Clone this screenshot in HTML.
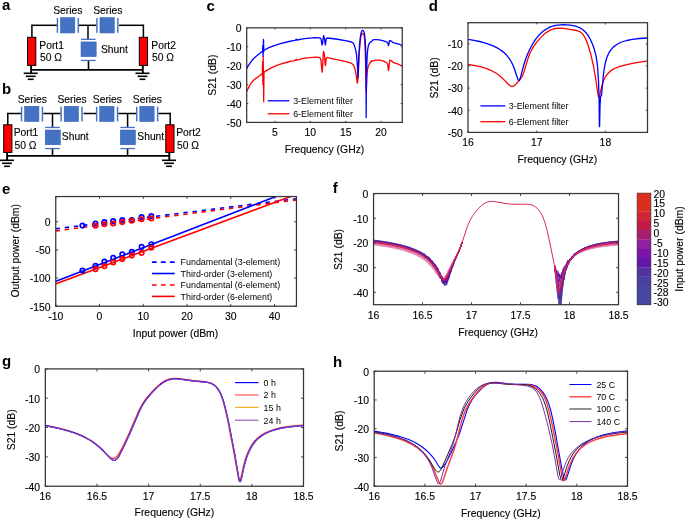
<!DOCTYPE html>
<html><head><meta charset="utf-8"><style>
html,body{margin:0;padding:0;background:#fff;}
svg{display:block;font-family:"Liberation Sans", sans-serif;will-change:transform;}
</style></head><body>
<svg width="685" height="519" viewBox="0 0 685 519">
<rect width="685" height="519" fill="#fff"/>
<text x="2.00" y="10.30" font-size="15" text-anchor="start" font-weight="bold" fill="#000">a</text>
<text x="2.00" y="93.60" font-size="15" text-anchor="start" font-weight="bold" fill="#000">b</text>
<text x="206.60" y="11.10" font-size="15" text-anchor="start" font-weight="bold" fill="#000">c</text>
<text x="428.70" y="11.20" font-size="15" text-anchor="start" font-weight="bold" fill="#000">d</text>
<text x="2.00" y="193.60" font-size="15" text-anchor="start" font-weight="bold" fill="#000">e</text>
<text x="332.80" y="193.00" font-size="15" text-anchor="start" font-weight="bold" fill="#000">f</text>
<text x="2.00" y="366.20" font-size="15" text-anchor="start" font-weight="bold" fill="#000">g</text>
<text x="333.00" y="367.00" font-size="15" text-anchor="start" font-weight="bold" fill="#000">h</text>
<line x1="31.90" y1="25.30" x2="57.00" y2="25.30" stroke="#000" stroke-width="1.5"/>
<line x1="31.90" y1="24.55" x2="31.90" y2="37.50" stroke="#000" stroke-width="1.5"/>
<line x1="79.00" y1="25.30" x2="96.50" y2="25.30" stroke="#000" stroke-width="1.5"/>
<line x1="119.00" y1="25.30" x2="143.40" y2="25.30" stroke="#000" stroke-width="1.5"/>
<line x1="143.40" y1="24.55" x2="143.40" y2="37.50" stroke="#000" stroke-width="1.5"/>
<line x1="88.00" y1="25.30" x2="88.00" y2="39.00" stroke="#000" stroke-width="1.5"/>
<line x1="88.50" y1="61.00" x2="88.50" y2="69.80" stroke="#000" stroke-width="1.6"/>
<line x1="31.10" y1="69.80" x2="142.80" y2="69.80" stroke="#000" stroke-width="1.75"/>
<line x1="31.10" y1="65.50" x2="31.10" y2="73.00" stroke="#000" stroke-width="1.9"/>
<line x1="142.80" y1="65.50" x2="142.80" y2="73.00" stroke="#000" stroke-width="1.9"/>
<rect x="56.70" y="18.00" width="1.45" height="14.80" fill="#4472c4" stroke="none" stroke-width="0"/>
<rect x="60.45" y="17.55" width="14.4" height="15.45" fill="#4472c4" stroke="#3560a8" stroke-width="0.5"/>
<rect x="77.60" y="18.00" width="1.45" height="14.80" fill="#4472c4" stroke="none" stroke-width="0"/>
<rect x="96.20" y="18.00" width="1.45" height="14.80" fill="#4472c4" stroke="none" stroke-width="0"/>
<rect x="99.95" y="17.55" width="14.4" height="15.45" fill="#4472c4" stroke="#3560a8" stroke-width="0.5"/>
<rect x="117.10" y="18.00" width="1.45" height="14.80" fill="#4472c4" stroke="none" stroke-width="0"/>
<rect x="81.00" y="38.70" width="14.60" height="1.30" fill="#4472c4" stroke="none" stroke-width="0"/>
<rect x="81.00" y="41.90" width="15.2" height="14.8" fill="#4472c4" stroke="#3560a8" stroke-width="0.5"/>
<rect x="81.00" y="59.80" width="14.60" height="1.30" fill="#4472c4" stroke="none" stroke-width="0"/>
<rect x="27.60" y="37.30" width="8.2" height="28.10" fill="#ff0000" stroke="#000" stroke-width="1"/>
<rect x="139.30" y="37.30" width="8.2" height="28.10" fill="#ff0000" stroke="#000" stroke-width="1"/>
<line x1="23.70" y1="73.30" x2="37.70" y2="73.30" stroke="#000" stroke-width="1.6"/>
<line x1="25.80" y1="76.30" x2="35.60" y2="76.30" stroke="#000" stroke-width="1.6"/>
<line x1="27.80" y1="79.30" x2="33.60" y2="79.30" stroke="#000" stroke-width="1.6"/>
<line x1="135.50" y1="73.30" x2="149.50" y2="73.30" stroke="#000" stroke-width="1.6"/>
<line x1="137.60" y1="76.30" x2="147.40" y2="76.30" stroke="#000" stroke-width="1.6"/>
<line x1="139.60" y1="79.30" x2="145.40" y2="79.30" stroke="#000" stroke-width="1.6"/>
<text x="53.20" y="13.70" font-size="10.3" text-anchor="start" font-weight="normal" fill="#000" stroke="#000" stroke-width="0.12">Series</text>
<text x="93.20" y="13.70" font-size="10.3" text-anchor="start" font-weight="normal" fill="#000" stroke="#000" stroke-width="0.12">Series</text>
<text x="101.00" y="52.80" font-size="10.3" text-anchor="start" font-weight="normal" fill="#000" stroke="#000" stroke-width="0.12">Shunt</text>
<text x="39.30" y="48.80" font-size="10.3" text-anchor="start" font-weight="normal" fill="#000" stroke="#000" stroke-width="0.12">Port1</text>
<text x="40.00" y="61.20" font-size="10.3" text-anchor="start" font-weight="normal" fill="#000" stroke="#000" stroke-width="0.12">50 Ω</text>
<text x="151.30" y="48.80" font-size="10.3" text-anchor="start" font-weight="normal" fill="#000" stroke="#000" stroke-width="0.12">Port2</text>
<text x="152.00" y="61.20" font-size="10.3" text-anchor="start" font-weight="normal" fill="#000" stroke="#000" stroke-width="0.12">50 Ω</text>
<line x1="7.80" y1="113.50" x2="21.10" y2="113.50" stroke="#000" stroke-width="1.5"/>
<line x1="7.80" y1="112.75" x2="7.80" y2="125.00" stroke="#000" stroke-width="1.5"/>
<line x1="43.30" y1="113.50" x2="60.70" y2="113.50" stroke="#000" stroke-width="1.5"/>
<line x1="83.50" y1="113.50" x2="96.20" y2="113.50" stroke="#000" stroke-width="1.5"/>
<line x1="118.30" y1="113.50" x2="136.30" y2="113.50" stroke="#000" stroke-width="1.5"/>
<line x1="158.40" y1="113.50" x2="170.20" y2="113.50" stroke="#000" stroke-width="1.5"/>
<line x1="170.20" y1="112.75" x2="170.20" y2="125.00" stroke="#000" stroke-width="1.5"/>
<line x1="52.50" y1="113.50" x2="52.50" y2="127.00" stroke="#000" stroke-width="1.5"/>
<line x1="52.50" y1="149.00" x2="52.50" y2="155.95" stroke="#000" stroke-width="1.6"/>
<line x1="127.60" y1="113.50" x2="127.60" y2="127.00" stroke="#000" stroke-width="1.5"/>
<line x1="127.60" y1="149.00" x2="127.60" y2="155.95" stroke="#000" stroke-width="1.6"/>
<line x1="7.10" y1="155.95" x2="169.30" y2="155.95" stroke="#000" stroke-width="1.75"/>
<line x1="7.10" y1="152.40" x2="7.10" y2="160.00" stroke="#000" stroke-width="1.9"/>
<line x1="169.30" y1="152.40" x2="169.30" y2="160.00" stroke="#000" stroke-width="1.9"/>
<rect x="20.80" y="106.70" width="1.45" height="14.70" fill="#4472c4" stroke="none" stroke-width="0"/>
<rect x="24.55" y="106.25" width="14.4" height="15.35" fill="#4472c4" stroke="#3560a8" stroke-width="0.5"/>
<rect x="41.70" y="106.70" width="1.45" height="14.70" fill="#4472c4" stroke="none" stroke-width="0"/>
<rect x="60.40" y="106.70" width="1.45" height="14.70" fill="#4472c4" stroke="none" stroke-width="0"/>
<rect x="64.15" y="106.25" width="14.4" height="15.35" fill="#4472c4" stroke="#3560a8" stroke-width="0.5"/>
<rect x="81.30" y="106.70" width="1.45" height="14.70" fill="#4472c4" stroke="none" stroke-width="0"/>
<rect x="95.90" y="106.70" width="1.45" height="14.70" fill="#4472c4" stroke="none" stroke-width="0"/>
<rect x="99.65" y="106.25" width="14.4" height="15.35" fill="#4472c4" stroke="#3560a8" stroke-width="0.5"/>
<rect x="116.80" y="106.70" width="1.45" height="14.70" fill="#4472c4" stroke="none" stroke-width="0"/>
<rect x="136.00" y="106.70" width="1.45" height="14.70" fill="#4472c4" stroke="none" stroke-width="0"/>
<rect x="139.75" y="106.25" width="14.4" height="15.35" fill="#4472c4" stroke="#3560a8" stroke-width="0.5"/>
<rect x="156.90" y="106.70" width="1.45" height="14.70" fill="#4472c4" stroke="none" stroke-width="0"/>
<rect x="45.20" y="126.80" width="14.60" height="1.30" fill="#4472c4" stroke="none" stroke-width="0"/>
<rect x="45.20" y="130.00" width="15.2" height="14.8" fill="#4472c4" stroke="#3560a8" stroke-width="0.5"/>
<rect x="45.20" y="147.90" width="14.60" height="1.30" fill="#4472c4" stroke="none" stroke-width="0"/>
<rect x="120.30" y="126.80" width="14.60" height="1.30" fill="#4472c4" stroke="none" stroke-width="0"/>
<rect x="120.30" y="130.00" width="15.2" height="14.8" fill="#4472c4" stroke="#3560a8" stroke-width="0.5"/>
<rect x="120.30" y="147.90" width="14.60" height="1.30" fill="#4472c4" stroke="none" stroke-width="0"/>
<rect x="3.70" y="124.80" width="8.2" height="27.60" fill="#ff0000" stroke="#000" stroke-width="1"/>
<rect x="165.80" y="124.80" width="8.2" height="27.60" fill="#ff0000" stroke="#000" stroke-width="1"/>
<line x1="0.00" y1="160.30" x2="14.00" y2="160.30" stroke="#000" stroke-width="1.6"/>
<line x1="2.10" y1="163.30" x2="11.90" y2="163.30" stroke="#000" stroke-width="1.6"/>
<line x1="4.10" y1="166.30" x2="9.90" y2="166.30" stroke="#000" stroke-width="1.6"/>
<line x1="162.00" y1="160.30" x2="176.00" y2="160.30" stroke="#000" stroke-width="1.6"/>
<line x1="164.10" y1="163.30" x2="173.90" y2="163.30" stroke="#000" stroke-width="1.6"/>
<line x1="166.10" y1="166.30" x2="171.90" y2="166.30" stroke="#000" stroke-width="1.6"/>
<text x="17.70" y="103.00" font-size="10.3" text-anchor="start" font-weight="normal" fill="#000" stroke="#000" stroke-width="0.12">Series</text>
<text x="57.50" y="103.00" font-size="10.3" text-anchor="start" font-weight="normal" fill="#000" stroke="#000" stroke-width="0.12">Series</text>
<text x="92.80" y="103.00" font-size="10.3" text-anchor="start" font-weight="normal" fill="#000" stroke="#000" stroke-width="0.12">Series</text>
<text x="132.80" y="103.00" font-size="10.3" text-anchor="start" font-weight="normal" fill="#000" stroke="#000" stroke-width="0.12">Series</text>
<text x="13.70" y="136.40" font-size="10.3" text-anchor="start" font-weight="normal" fill="#000" stroke="#000" stroke-width="0.12">Port1</text>
<text x="14.50" y="148.60" font-size="10.3" text-anchor="start" font-weight="normal" fill="#000" stroke="#000" stroke-width="0.12">50 Ω</text>
<text x="61.80" y="139.90" font-size="10.3" text-anchor="start" font-weight="normal" fill="#000" stroke="#000" stroke-width="0.12">Shunt</text>
<text x="137.30" y="139.90" font-size="10.3" text-anchor="start" font-weight="normal" fill="#000" stroke="#000" stroke-width="0.12">Shunt</text>
<text x="176.20" y="136.40" font-size="10.3" text-anchor="start" font-weight="normal" fill="#000" stroke="#000" stroke-width="0.12">Port2</text>
<text x="177.00" y="148.60" font-size="10.3" text-anchor="start" font-weight="normal" fill="#000" stroke="#000" stroke-width="0.12">50 Ω</text>
<clipPath id="cc"><rect x="246.70" y="27.85" width="155.55" height="94.55"/></clipPath>
<g clip-path="url(#cc)">
<path d="M246.7,91.5 L248.5,87.9 L250.0,85.0 L251.4,82.7 L252.8,81.1 L255.2,78.9 L259.0,76.2 L263.5,72.7 L265.7,71.1 L268.5,69.4 L271.3,67.9 L277.5,65.1 L281.3,63.8 L289.6,61.5 L291.2,61.1 L293.9,60.8 L295.1,60.5 L295.6,60.3 L296.2,59.1 L296.4,59.3 L296.8,60.1 L297.2,60.1 L298.3,59.9 L300.8,59.0 L302.1,58.7 L305.4,58.1 L309.3,57.6 L316.4,57.2 L318.2,57.4 L319.8,57.7 L320.4,58.6 L321.0,60.8 L321.9,70.4 L322.2,72.1 L322.4,69.7 L323.3,53.4 L323.6,51.5 L324.0,52.5 L324.5,55.7 L325.1,64.1 L325.4,65.5 L325.6,64.6 L326.1,59.1 L326.6,58.0 L327.2,57.5 L328.0,57.6 L330.8,58.4 L342.7,60.8 L347.3,61.9 L351.0,63.2 L352.0,63.8 L352.9,64.5 L353.5,65.2 L354.2,66.7 L355.3,70.2 L356.1,74.4 L357.0,82.0 L357.3,83.1 L357.7,81.3 L358.3,75.0 L359.1,54.9 L359.9,44.9 L360.4,39.8 L361.0,36.0 L361.5,34.0 L361.8,33.4 L362.1,33.3 L362.4,33.4 L362.9,33.8 L363.7,34.9 L364.1,35.6 L364.4,37.4 L364.7,40.4 L365.5,59.6 L366.2,92.5 L366.8,77.3 L367.1,72.9 L367.5,69.7 L368.0,67.1 L368.8,65.0 L370.0,63.0 L371.5,61.0 L373.2,60.9 L375.4,60.2 L379.6,60.2 L381.9,60.6 L384.5,61.6 L385.7,62.1 L386.9,63.0 L387.7,64.5 L388.3,69.6 L388.5,70.6 L388.7,69.7 L389.5,61.6 L389.8,60.1 L391.0,60.6 L393.6,62.7 L398.1,64.1 L400.1,65.0 L402.2,66.3" fill="none" stroke="#ff0000" stroke-width="1.3" stroke-linejoin="round"/>
<path d="M262.3,75.5 L262.6,61.5 L262.9,84.5 L263.2,56.5 L263.7,101.8 L264.0,73.0" fill="none" stroke="#ff0000" stroke-width="1.3" stroke-linejoin="round"/>
<path d="M246.7,68.8 L248.9,64.8 L250.9,61.8 L252.6,59.7 L254.8,57.4 L258.0,54.7 L262.8,51.0 L265.6,49.3 L268.9,47.7 L275.1,45.3 L280.4,43.6 L289.0,41.5 L294.9,40.4 L295.6,40.1 L296.2,39.1 L296.9,40.0 L297.4,40.0 L301.3,39.1 L304.7,38.6 L314.9,37.7 L318.2,37.8 L320.0,38.0 L320.5,38.2 L321.2,39.5 L321.8,44.1 L322.0,44.9 L322.3,44.3 L322.8,42.3 L323.4,36.7 L323.7,35.7 L323.9,36.2 L324.3,37.8 L324.7,40.0 L325.2,44.1 L325.4,44.9 L325.6,44.0 L326.1,39.0 L326.6,38.3 L327.2,38.0 L335.9,39.0 L348.1,41.1 L351.4,42.0 L352.5,42.5 L353.2,43.1 L354.1,44.8 L355.2,48.1 L355.9,50.9 L356.5,54.2 L357.2,62.5 L358.0,78.0 L358.9,54.3 L359.4,46.7 L360.0,40.3 L360.6,35.5 L361.2,32.4 L361.6,31.4 L362.0,30.7 L362.4,30.4 L362.9,30.4 L363.4,30.9 L363.9,31.8 L364.3,33.0 L364.6,34.8 L365.2,40.4 L365.6,48.3 L366.0,69.2 L366.2,117.5 L366.3,92.3 L366.4,90.4 L366.7,69.9 L367.0,59.7 L367.3,53.5 L367.8,49.2 L368.3,46.0 L369.1,43.8 L369.6,43.0 L370.2,42.3 L370.8,41.9 L371.8,41.4 L372.9,39.9 L374.7,39.7 L376.7,39.7 L379.3,39.9 L380.7,40.1 L385.1,41.3 L386.4,41.8 L387.1,42.2 L387.7,42.9 L388.3,45.2 L388.5,45.6 L388.7,45.0 L389.5,40.9 L389.6,40.5 L390.2,40.6 L391.6,41.3 L392.7,42.4 L393.0,42.6 L398.1,43.9 L402.2,45.3" fill="none" stroke="#0000ff" stroke-width="1.3" stroke-linejoin="round"/>
<path d="M262.6,52.5 L262.8,45.5 L263.1,56.3 L263.5,39.4 L263.8,52.0" fill="none" stroke="#0000ff" stroke-width="1.3" stroke-linejoin="round"/>
</g>
<rect x="246.70" y="27.85" width="155.55" height="94.55" fill="none" stroke="#363636" stroke-width="1.25"/>
<line x1="274.98" y1="122.40" x2="274.98" y2="120.84" stroke="#363636" stroke-width="0.9"/>
<line x1="274.98" y1="27.85" x2="274.98" y2="29.41" stroke="#363636" stroke-width="0.9"/>
<text x="274.98" y="136.40" font-size="10.4" text-anchor="middle" font-weight="normal" fill="#000" stroke="#000" stroke-width="0.12">5</text>
<line x1="310.33" y1="122.40" x2="310.33" y2="120.84" stroke="#363636" stroke-width="0.9"/>
<line x1="310.33" y1="27.85" x2="310.33" y2="29.41" stroke="#363636" stroke-width="0.9"/>
<text x="310.33" y="136.40" font-size="10.4" text-anchor="middle" font-weight="normal" fill="#000" stroke="#000" stroke-width="0.12">10</text>
<line x1="345.69" y1="122.40" x2="345.69" y2="120.84" stroke="#363636" stroke-width="0.9"/>
<line x1="345.69" y1="27.85" x2="345.69" y2="29.41" stroke="#363636" stroke-width="0.9"/>
<text x="345.69" y="136.40" font-size="10.4" text-anchor="middle" font-weight="normal" fill="#000" stroke="#000" stroke-width="0.12">15</text>
<line x1="381.04" y1="122.40" x2="381.04" y2="120.84" stroke="#363636" stroke-width="0.9"/>
<line x1="381.04" y1="27.85" x2="381.04" y2="29.41" stroke="#363636" stroke-width="0.9"/>
<text x="381.04" y="136.40" font-size="10.4" text-anchor="middle" font-weight="normal" fill="#000" stroke="#000" stroke-width="0.12">20</text>
<line x1="246.70" y1="27.85" x2="248.26" y2="27.85" stroke="#363636" stroke-width="0.9"/>
<line x1="402.25" y1="27.85" x2="400.69" y2="27.85" stroke="#363636" stroke-width="0.9"/>
<text x="241.50" y="32.15" font-size="10.4" text-anchor="end" font-weight="normal" fill="#000" stroke="#000" stroke-width="0.12">0</text>
<line x1="246.70" y1="46.76" x2="248.26" y2="46.76" stroke="#363636" stroke-width="0.9"/>
<line x1="402.25" y1="46.76" x2="400.69" y2="46.76" stroke="#363636" stroke-width="0.9"/>
<text x="241.50" y="51.06" font-size="10.4" text-anchor="end" font-weight="normal" fill="#000" stroke="#000" stroke-width="0.12">-10</text>
<line x1="246.70" y1="65.67" x2="248.26" y2="65.67" stroke="#363636" stroke-width="0.9"/>
<line x1="402.25" y1="65.67" x2="400.69" y2="65.67" stroke="#363636" stroke-width="0.9"/>
<text x="241.50" y="69.97" font-size="10.4" text-anchor="end" font-weight="normal" fill="#000" stroke="#000" stroke-width="0.12">-20</text>
<line x1="246.70" y1="84.58" x2="248.26" y2="84.58" stroke="#363636" stroke-width="0.9"/>
<line x1="402.25" y1="84.58" x2="400.69" y2="84.58" stroke="#363636" stroke-width="0.9"/>
<text x="241.50" y="88.88" font-size="10.4" text-anchor="end" font-weight="normal" fill="#000" stroke="#000" stroke-width="0.12">-30</text>
<line x1="246.70" y1="103.49" x2="248.26" y2="103.49" stroke="#363636" stroke-width="0.9"/>
<line x1="402.25" y1="103.49" x2="400.69" y2="103.49" stroke="#363636" stroke-width="0.9"/>
<text x="241.50" y="107.79" font-size="10.4" text-anchor="end" font-weight="normal" fill="#000" stroke="#000" stroke-width="0.12">-40</text>
<line x1="246.70" y1="122.40" x2="248.26" y2="122.40" stroke="#363636" stroke-width="0.9"/>
<line x1="402.25" y1="122.40" x2="400.69" y2="122.40" stroke="#363636" stroke-width="0.9"/>
<text x="241.50" y="126.70" font-size="10.4" text-anchor="end" font-weight="normal" fill="#000" stroke="#000" stroke-width="0.12">-50</text>
<text x="324.48" y="153.00" font-size="10.4" text-anchor="middle" font-weight="normal" fill="#000" stroke="#000" stroke-width="0.12">Frequency (GHz)</text>
<text x="215.60" y="75.12" font-size="10.4" text-anchor="middle" font-weight="normal" fill="#000" stroke="#000" stroke-width="0.12" transform="rotate(-90 215.6 75.125)">S21 (dB)</text>
<line x1="267.70" y1="100.80" x2="289.40" y2="100.80" stroke="#0000ff" stroke-width="1.3"/>
<line x1="267.70" y1="113.80" x2="289.40" y2="113.80" stroke="#ff0000" stroke-width="1.3"/>
<text x="293.20" y="104.10" font-size="8.9" text-anchor="start" font-weight="normal" fill="#000">3-Element filter</text>
<text x="293.20" y="117.10" font-size="8.9" text-anchor="start" font-weight="normal" fill="#000">6-Element filter</text>
<clipPath id="cd"><rect x="468.00" y="22.70" width="179.50" height="109.70"/></clipPath>
<g clip-path="url(#cd)">
<path d="M468.0,64.5 L475.0,65.6 L481.2,66.9 L486.7,68.6 L491.5,70.7 L495.8,73.0 L499.7,75.8 L502.6,78.4 L507.8,83.8 L509.7,85.4 L510.6,86.0 L511.5,86.3 L512.3,86.4 L513.1,86.2 L514.6,85.4 L516.3,83.8 L520.0,79.6 L521.7,77.2 L522.9,74.9 L523.9,72.1 L527.2,61.1 L528.6,56.7 L529.9,53.3 L531.4,50.3 L533.8,46.2 L536.7,42.1 L540.2,38.1 L543.7,34.6 L547.0,32.1 L550.1,30.2 L553.2,29.0 L556.5,28.3 L559.7,28.1 L563.5,28.4 L571.5,29.6 L576.6,30.5 L578.6,31.2 L580.3,32.0 L581.7,33.1 L583.1,34.6 L584.3,36.5 L585.6,38.9 L586.8,41.8 L588.2,45.5 L590.9,54.8 L593.4,65.6 L595.5,77.5 L598.0,94.7 L598.5,96.9 L598.7,97.4 L598.9,97.5 L599.2,97.1 L599.6,96.0 L601.1,88.8 L602.1,85.1 L603.0,82.2 L604.0,79.6 L605.3,77.0 L606.9,74.7 L608.7,72.7 L610.7,70.9 L613.1,69.4 L615.9,68.0 L619.2,66.7 L623.1,65.6 L627.9,64.4 L633.6,63.2 L648.0,60.9" fill="none" stroke="#ff0000" stroke-width="1.3" stroke-linejoin="round"/>
<path d="M468.0,39.3 L474.1,40.3 L479.6,41.5 L484.6,42.8 L489.1,44.3 L493.1,45.8 L496.7,47.6 L499.9,49.5 L502.8,51.6 L505.2,53.7 L507.4,56.1 L509.4,58.7 L511.1,61.5 L512.7,64.6 L514.1,68.0 L517.8,79.0 L518.4,80.2 L519.0,80.5 L519.3,80.4 L519.6,79.9 L520.3,78.1 L523.5,66.0 L525.6,59.3 L527.6,54.0 L529.8,49.2 L532.7,43.8 L535.9,38.9 L539.4,34.7 L541.2,32.9 L543.0,31.3 L544.9,29.9 L546.9,28.7 L548.9,27.6 L551.0,26.7 L553.2,26.0 L555.5,25.4 L558.0,25.1 L560.6,24.8 L563.7,24.7 L567.0,24.8 L570.1,25.1 L573.0,25.6 L575.6,26.2 L577.9,27.0 L579.9,27.9 L581.9,29.0 L584.3,30.9 L586.4,33.2 L588.5,36.1 L590.4,39.5 L592.3,43.7 L593.9,48.0 L595.2,52.6 L596.3,57.3 L597.0,61.9 L597.6,67.2 L598.5,80.4 L599.1,98.9 L599.4,126.6 L599.6,126.6 L600.0,105.9 L600.5,97.4 L600.8,96.1 L600.9,95.9 L601.2,95.8 L601.4,95.6 L601.7,94.0 L603.3,75.8 L604.0,70.4 L604.8,65.7 L605.6,61.8 L606.6,58.5 L607.7,55.6 L608.9,52.9 L610.0,51.1 L611.3,49.4 L612.6,47.8 L614.1,46.4 L615.8,45.2 L617.6,44.0 L619.5,43.0 L621.7,42.0 L626.6,40.5 L632.4,39.4 L639.5,38.5 L648.0,38.0" fill="none" stroke="#0000ff" stroke-width="1.3" stroke-linejoin="round"/>
</g>
<rect x="468.00" y="22.70" width="179.50" height="109.70" fill="none" stroke="#363636" stroke-width="1.25"/>
<line x1="468.00" y1="132.40" x2="468.00" y2="130.61" stroke="#363636" stroke-width="0.9"/>
<line x1="468.00" y1="22.70" x2="468.00" y2="24.49" stroke="#363636" stroke-width="0.9"/>
<text x="468.00" y="146.40" font-size="10.4" text-anchor="middle" font-weight="normal" fill="#000" stroke="#000" stroke-width="0.12">16</text>
<line x1="536.70" y1="132.40" x2="536.70" y2="130.61" stroke="#363636" stroke-width="0.9"/>
<line x1="536.70" y1="22.70" x2="536.70" y2="24.49" stroke="#363636" stroke-width="0.9"/>
<text x="536.70" y="146.40" font-size="10.4" text-anchor="middle" font-weight="normal" fill="#000" stroke="#000" stroke-width="0.12">17</text>
<line x1="605.40" y1="132.40" x2="605.40" y2="130.61" stroke="#363636" stroke-width="0.9"/>
<line x1="605.40" y1="22.70" x2="605.40" y2="24.49" stroke="#363636" stroke-width="0.9"/>
<text x="605.40" y="146.40" font-size="10.4" text-anchor="middle" font-weight="normal" fill="#000" stroke="#000" stroke-width="0.12">18</text>
<line x1="468.00" y1="43.90" x2="469.80" y2="43.90" stroke="#363636" stroke-width="0.9"/>
<line x1="647.50" y1="43.90" x2="645.71" y2="43.90" stroke="#363636" stroke-width="0.9"/>
<text x="462.80" y="48.20" font-size="10.4" text-anchor="end" font-weight="normal" fill="#000" stroke="#000" stroke-width="0.12">-10</text>
<line x1="468.00" y1="66.03" x2="469.80" y2="66.03" stroke="#363636" stroke-width="0.9"/>
<line x1="647.50" y1="66.03" x2="645.71" y2="66.03" stroke="#363636" stroke-width="0.9"/>
<text x="462.80" y="70.33" font-size="10.4" text-anchor="end" font-weight="normal" fill="#000" stroke="#000" stroke-width="0.12">-20</text>
<line x1="468.00" y1="88.15" x2="469.80" y2="88.15" stroke="#363636" stroke-width="0.9"/>
<line x1="647.50" y1="88.15" x2="645.71" y2="88.15" stroke="#363636" stroke-width="0.9"/>
<text x="462.80" y="92.45" font-size="10.4" text-anchor="end" font-weight="normal" fill="#000" stroke="#000" stroke-width="0.12">-30</text>
<line x1="468.00" y1="110.28" x2="469.80" y2="110.28" stroke="#363636" stroke-width="0.9"/>
<line x1="647.50" y1="110.28" x2="645.71" y2="110.28" stroke="#363636" stroke-width="0.9"/>
<text x="462.80" y="114.58" font-size="10.4" text-anchor="end" font-weight="normal" fill="#000" stroke="#000" stroke-width="0.12">-40</text>
<line x1="468.00" y1="132.40" x2="469.80" y2="132.40" stroke="#363636" stroke-width="0.9"/>
<line x1="647.50" y1="132.40" x2="645.71" y2="132.40" stroke="#363636" stroke-width="0.9"/>
<text x="462.80" y="136.70" font-size="10.4" text-anchor="end" font-weight="normal" fill="#000" stroke="#000" stroke-width="0.12">-50</text>
<text x="557.31" y="162.80" font-size="10.4" text-anchor="middle" font-weight="normal" fill="#000" stroke="#000" stroke-width="0.12">Frequency (GHz)</text>
<text x="437.60" y="77.89" font-size="10.4" text-anchor="middle" font-weight="normal" fill="#000" stroke="#000" stroke-width="0.12" transform="rotate(-90 437.6 77.8875)">S21 (dB)</text>
<line x1="480.40" y1="105.90" x2="505.30" y2="105.90" stroke="#0000ff" stroke-width="1.3"/>
<line x1="480.40" y1="121.70" x2="505.30" y2="121.70" stroke="#ff0000" stroke-width="1.3"/>
<text x="508.80" y="109.20" font-size="8.9" text-anchor="start" font-weight="normal" fill="#000">3-Element filter</text>
<text x="508.80" y="125.00" font-size="8.9" text-anchor="start" font-weight="normal" fill="#000">6-Element filter</text>
<clipPath id="ce"><rect x="55.75" y="196.55" width="240.70" height="109.65"/></clipPath>
<g clip-path="url(#ce)">
<line x1="50.00" y1="229.50" x2="300.00" y2="198.30" stroke="#0000ff" stroke-width="1.6" stroke-dasharray="4.4 4.8" stroke-dashoffset="-5.6"/>
<line x1="50.00" y1="231.62" x2="300.00" y2="199.48" stroke="#ff0000" stroke-width="1.6" stroke-dasharray="4.4 4.8" stroke-dashoffset="-5.6"/>
<line x1="50.00" y1="283.56" x2="300.00" y2="187.25" stroke="#0000ff" stroke-width="1.6"/>
<line x1="50.00" y1="285.98" x2="300.00" y2="192.99" stroke="#ff0000" stroke-width="1.6"/>
<circle cx="82.40" cy="225.60" r="2.2" fill="none" stroke="#0000ff" stroke-width="1.7"/>
<circle cx="95.50" cy="223.50" r="2.2" fill="none" stroke="#0000ff" stroke-width="1.7"/>
<circle cx="104.40" cy="222.10" r="2.2" fill="none" stroke="#0000ff" stroke-width="1.7"/>
<circle cx="113.20" cy="221.10" r="2.2" fill="none" stroke="#0000ff" stroke-width="1.7"/>
<circle cx="122.30" cy="220.10" r="2.2" fill="none" stroke="#0000ff" stroke-width="1.7"/>
<circle cx="131.80" cy="220.00" r="2.2" fill="none" stroke="#0000ff" stroke-width="1.7"/>
<circle cx="141.60" cy="217.00" r="2.2" fill="none" stroke="#0000ff" stroke-width="1.7"/>
<circle cx="151.30" cy="216.10" r="2.2" fill="none" stroke="#0000ff" stroke-width="1.7"/>
<circle cx="95.50" cy="225.80" r="2.2" fill="none" stroke="#ff0000" stroke-width="1.7"/>
<circle cx="104.40" cy="224.30" r="2.2" fill="none" stroke="#ff0000" stroke-width="1.7"/>
<circle cx="113.20" cy="223.50" r="2.2" fill="none" stroke="#ff0000" stroke-width="1.7"/>
<circle cx="122.30" cy="222.10" r="2.2" fill="none" stroke="#ff0000" stroke-width="1.7"/>
<circle cx="131.80" cy="220.80" r="2.2" fill="none" stroke="#ff0000" stroke-width="1.7"/>
<circle cx="141.60" cy="219.20" r="2.2" fill="none" stroke="#ff0000" stroke-width="1.7"/>
<circle cx="151.30" cy="218.40" r="2.2" fill="none" stroke="#ff0000" stroke-width="1.7"/>
<circle cx="82.40" cy="270.50" r="2.2" fill="none" stroke="#0000ff" stroke-width="1.7"/>
<circle cx="95.50" cy="265.90" r="2.2" fill="none" stroke="#0000ff" stroke-width="1.7"/>
<circle cx="104.40" cy="261.60" r="2.2" fill="none" stroke="#0000ff" stroke-width="1.7"/>
<circle cx="113.20" cy="257.90" r="2.2" fill="none" stroke="#0000ff" stroke-width="1.7"/>
<circle cx="122.30" cy="254.40" r="2.2" fill="none" stroke="#0000ff" stroke-width="1.7"/>
<circle cx="131.80" cy="251.90" r="2.2" fill="none" stroke="#0000ff" stroke-width="1.7"/>
<circle cx="141.60" cy="246.90" r="2.2" fill="none" stroke="#0000ff" stroke-width="1.7"/>
<circle cx="151.30" cy="244.20" r="2.2" fill="none" stroke="#0000ff" stroke-width="1.7"/>
<circle cx="95.50" cy="269.30" r="2.2" fill="none" stroke="#ff0000" stroke-width="1.7"/>
<circle cx="104.40" cy="266.30" r="2.2" fill="none" stroke="#ff0000" stroke-width="1.7"/>
<circle cx="113.20" cy="262.40" r="2.2" fill="none" stroke="#ff0000" stroke-width="1.7"/>
<circle cx="122.30" cy="259.10" r="2.2" fill="none" stroke="#ff0000" stroke-width="1.7"/>
<circle cx="131.80" cy="255.60" r="2.2" fill="none" stroke="#ff0000" stroke-width="1.7"/>
<circle cx="141.60" cy="252.90" r="2.2" fill="none" stroke="#ff0000" stroke-width="1.7"/>
<circle cx="151.30" cy="247.70" r="2.2" fill="none" stroke="#ff0000" stroke-width="1.7"/>
</g>
<rect x="55.75" y="196.55" width="240.70" height="109.65" fill="none" stroke="#363636" stroke-width="1.25"/>
<line x1="55.75" y1="306.20" x2="55.75" y2="303.79" stroke="#363636" stroke-width="0.9"/>
<line x1="55.75" y1="196.55" x2="55.75" y2="198.96" stroke="#363636" stroke-width="0.9"/>
<text x="55.75" y="320.20" font-size="10.4" text-anchor="middle" font-weight="normal" fill="#000" stroke="#000" stroke-width="0.12">-10</text>
<line x1="99.51" y1="306.20" x2="99.51" y2="303.79" stroke="#363636" stroke-width="0.9"/>
<line x1="99.51" y1="196.55" x2="99.51" y2="198.96" stroke="#363636" stroke-width="0.9"/>
<text x="99.51" y="320.20" font-size="10.4" text-anchor="middle" font-weight="normal" fill="#000" stroke="#000" stroke-width="0.12">0</text>
<line x1="143.27" y1="306.20" x2="143.27" y2="303.79" stroke="#363636" stroke-width="0.9"/>
<line x1="143.27" y1="196.55" x2="143.27" y2="198.96" stroke="#363636" stroke-width="0.9"/>
<text x="143.27" y="320.20" font-size="10.4" text-anchor="middle" font-weight="normal" fill="#000" stroke="#000" stroke-width="0.12">10</text>
<line x1="187.03" y1="306.20" x2="187.03" y2="303.79" stroke="#363636" stroke-width="0.9"/>
<line x1="187.03" y1="196.55" x2="187.03" y2="198.96" stroke="#363636" stroke-width="0.9"/>
<text x="187.03" y="320.20" font-size="10.4" text-anchor="middle" font-weight="normal" fill="#000" stroke="#000" stroke-width="0.12">20</text>
<line x1="230.79" y1="306.20" x2="230.79" y2="303.79" stroke="#363636" stroke-width="0.9"/>
<line x1="230.79" y1="196.55" x2="230.79" y2="198.96" stroke="#363636" stroke-width="0.9"/>
<text x="230.79" y="320.20" font-size="10.4" text-anchor="middle" font-weight="normal" fill="#000" stroke="#000" stroke-width="0.12">30</text>
<line x1="274.55" y1="306.20" x2="274.55" y2="303.79" stroke="#363636" stroke-width="0.9"/>
<line x1="274.55" y1="196.55" x2="274.55" y2="198.96" stroke="#363636" stroke-width="0.9"/>
<text x="274.55" y="320.20" font-size="10.4" text-anchor="middle" font-weight="normal" fill="#000" stroke="#000" stroke-width="0.12">40</text>
<line x1="55.75" y1="221.80" x2="58.16" y2="221.80" stroke="#363636" stroke-width="0.9"/>
<line x1="296.45" y1="221.80" x2="294.04" y2="221.80" stroke="#363636" stroke-width="0.9"/>
<text x="50.55" y="226.10" font-size="10.4" text-anchor="end" font-weight="normal" fill="#000" stroke="#000" stroke-width="0.12">0</text>
<line x1="55.75" y1="249.93" x2="58.16" y2="249.93" stroke="#363636" stroke-width="0.9"/>
<line x1="296.45" y1="249.93" x2="294.04" y2="249.93" stroke="#363636" stroke-width="0.9"/>
<text x="50.55" y="254.23" font-size="10.4" text-anchor="end" font-weight="normal" fill="#000" stroke="#000" stroke-width="0.12">-50</text>
<line x1="55.75" y1="278.06" x2="58.16" y2="278.06" stroke="#363636" stroke-width="0.9"/>
<line x1="296.45" y1="278.06" x2="294.04" y2="278.06" stroke="#363636" stroke-width="0.9"/>
<text x="50.55" y="282.37" font-size="10.4" text-anchor="end" font-weight="normal" fill="#000" stroke="#000" stroke-width="0.12">-100</text>
<line x1="55.75" y1="306.20" x2="58.16" y2="306.20" stroke="#363636" stroke-width="0.9"/>
<line x1="296.45" y1="306.20" x2="294.04" y2="306.20" stroke="#363636" stroke-width="0.9"/>
<text x="50.55" y="310.50" font-size="10.4" text-anchor="end" font-weight="normal" fill="#000" stroke="#000" stroke-width="0.12">-150</text>
<text x="175.50" y="337.00" font-size="10.4" text-anchor="middle" font-weight="normal" fill="#000" stroke="#000" stroke-width="0.12">Input power (dBm)</text>
<text x="19.20" y="250.80" font-size="10.4" text-anchor="middle" font-weight="normal" fill="#000" stroke="#000" stroke-width="0.12" transform="rotate(-90 19.2 250.8)">Output power (dBm)</text>
<line x1="151.90" y1="262.10" x2="174.70" y2="262.10" stroke="#0000ff" stroke-width="1.6" stroke-dasharray="4.8 4.2"/>
<line x1="151.90" y1="273.50" x2="174.70" y2="273.50" stroke="#0000ff" stroke-width="1.6"/>
<line x1="151.90" y1="285.00" x2="174.70" y2="285.00" stroke="#ff0000" stroke-width="1.6" stroke-dasharray="4.8 4.2"/>
<line x1="151.90" y1="296.40" x2="174.70" y2="296.40" stroke="#ff0000" stroke-width="1.6"/>
<text x="180.60" y="265.30" font-size="8.9" text-anchor="start" font-weight="normal" fill="#000">Fundamental (3-element)</text>
<text x="180.60" y="276.70" font-size="8.9" text-anchor="start" font-weight="normal" fill="#000">Third-order (3-element)</text>
<text x="180.60" y="288.20" font-size="8.9" text-anchor="start" font-weight="normal" fill="#000">Fundamental (6-element)</text>
<text x="180.60" y="299.60" font-size="8.9" text-anchor="start" font-weight="normal" fill="#000">Third-order (6-element)</text>
<clipPath id="cf"><rect x="373.55" y="193.55" width="244.95" height="111.15"/></clipPath>
<g clip-path="url(#cf)">
<path d="M373.6,241.3 L382.1,242.5 L389.9,243.7 L396.8,245.1 L403.1,246.7 L407.6,248.0 L408.9,248.5 L410.3,248.9 L412.4,249.9 L412.9,249.9 L413.3,250.3 L413.6,250.3 L414.4,250.7 L414.7,250.7 L415.0,251.0 L415.7,250.9 L416.0,251.4 L416.4,251.5 L417.4,252.3 L417.8,252.3 L418.1,252.5 L419.1,252.7 L419.6,253.0 L419.9,253.0 L420.4,254.0 L420.6,254.0 L421.0,253.3 L421.3,254.1 L421.7,254.1 L422.1,254.2 L422.5,255.0 L422.7,255.2 L423.1,255.8 L423.5,255.4 L423.8,255.8 L424.0,255.2 L424.2,255.1 L424.4,255.6 L424.8,255.7 L425.2,256.1 L425.9,257.5 L426.2,257.2 L426.4,257.2 L426.8,258.0 L427.4,258.3 L427.8,257.4 L427.9,257.4 L428.6,260.2 L428.7,260.3 L428.9,259.8 L429.1,259.8 L429.4,260.5 L429.7,260.6 L430.1,261.2 L430.4,260.1 L430.6,260.2 L430.9,260.8 L431.2,260.7 L431.5,262.2 L431.8,262.6 L432.3,264.1 L432.4,264.2 L432.8,263.0 L433.1,265.4 L433.3,265.8 L433.5,265.9 L433.7,265.7 L434.1,266.2 L434.3,264.5 L434.4,264.1 L434.5,264.2 L435.1,267.4 L435.2,267.5 L435.5,266.9 L435.9,267.9 L436.2,267.8 L436.7,270.2 L436.8,270.2 L437.0,269.5 L437.1,269.7 L437.7,273.4 L438.1,271.7 L438.4,274.2 L438.6,274.7 L438.8,274.4 L439.1,273.1 L439.3,272.9 L439.4,273.0 L439.8,275.9 L440.0,276.0 L440.1,276.2 L440.4,278.1 L440.9,277.3 L441.1,276.4 L442.1,282.7 L442.7,280.5 L443.1,281.7 L443.4,280.0 L443.5,279.9 L443.6,280.1 L443.9,279.6 L444.4,282.5 L444.8,280.3 L445.3,278.8 L445.7,280.1 L445.9,280.2 L446.2,280.6 L446.3,280.5 L446.8,279.3 L447.2,275.3 L447.5,276.2 L448.0,275.4 L448.3,275.2 L448.5,275.4 L448.9,273.6 L448.9,273.4 L449.2,273.4 L449.8,271.9 L450.2,269.8 L450.7,269.7 L450.9,269.2 L451.6,265.6 L452.0,265.4 L452.1,265.6 L452.2,265.5 L452.5,264.2 L452.7,264.1 L452.9,264.2 L453.3,263.5 L453.6,263.2 L454.0,261.0 L454.7,260.0 L455.6,257.5 L456.3,257.1 L456.7,256.0 L457.1,255.4 L457.9,253.0 L459.1,250.6 L460.3,247.6 L462.2,242.3" fill="none" stroke="#6414a8" stroke-width="0.95" stroke-linejoin="round" stroke-opacity="0.85"/>
<path d="M554.6,268.0 L555.2,272.1 L557.1,292.1 L557.9,297.8 L558.1,298.8 L558.3,297.7 L558.6,292.0 L558.7,292.0 L559.0,292.9 L559.1,292.5 L559.6,287.0 L559.9,285.7 L560.3,282.7 L560.3,282.7 L560.5,282.9 L560.6,282.7 L561.2,277.4 L561.5,277.0 L561.7,277.4 L562.1,276.7 L562.3,277.8 L562.7,273.3 L562.8,273.2 L563.0,273.4 L563.0,273.3 L563.4,271.1 L563.8,270.0 L564.1,269.6 L564.6,267.0 L564.8,266.9 L565.1,268.6 L565.3,268.2 L565.5,268.3 L566.0,264.6 L566.3,267.2 L566.7,263.9 L566.9,263.8 L567.0,264.2 L567.1,264.1 L567.4,263.2 L567.6,263.4 L567.7,263.3 L568.1,262.4 L568.6,262.0 L568.8,261.9 L569.1,261.6 L569.3,261.8 L569.4,261.7 L569.8,260.2 L570.5,259.6 L571.0,258.2 L571.3,258.7 L571.6,258.0 L572.0,257.7 L572.4,256.4 L572.7,255.8 L572.8,255.8 L573.5,256.8 L574.1,254.6 L574.6,254.6 L575.0,255.0 L575.4,254.4 L575.6,254.3 L576.0,253.5 L576.9,252.5 L577.5,252.6 L578.0,252.1 L578.6,252.0 L579.4,251.0 L580.4,250.9 L580.8,250.3 L582.6,249.5 L583.1,249.1 L584.0,248.9 L584.4,248.5 L590.5,246.4 L596.1,245.0 L602.6,243.8 L610.0,242.8 L618.5,242.0" fill="none" stroke="#6414a8" stroke-width="0.95" stroke-linejoin="round" stroke-opacity="0.85"/>
<path d="M373.6,241.3 L381.7,242.4 L389.1,243.6 L395.7,244.9 L401.7,246.3 L407.4,247.9 L410.8,249.2 L411.8,249.2 L412.3,249.8 L412.9,249.9 L413.3,250.4 L413.8,250.2 L414.3,250.5 L414.6,250.5 L415.0,251.1 L415.7,251.2 L416.0,251.1 L416.3,251.5 L416.7,251.5 L416.9,251.8 L417.2,251.8 L417.5,252.1 L417.7,252.1 L418.1,252.5 L418.6,252.5 L419.0,253.0 L419.1,253.0 L419.4,252.7 L419.7,253.1 L420.0,253.0 L420.5,253.3 L420.9,254.0 L421.9,253.9 L422.5,254.6 L423.0,255.5 L423.5,255.8 L423.9,256.4 L424.5,255.6 L424.8,256.4 L425.2,256.6 L425.6,256.8 L425.9,256.5 L426.2,257.5 L426.6,258.0 L426.9,257.7 L427.3,257.8 L427.7,258.0 L428.1,258.7 L428.4,258.0 L428.9,260.5 L429.3,259.4 L429.7,261.0 L430.2,260.6 L430.5,261.4 L430.7,261.7 L430.9,261.6 L431.2,260.8 L431.6,261.9 L431.9,260.9 L431.9,261.0 L432.5,263.8 L433.3,264.8 L433.6,265.8 L433.8,265.8 L434.1,266.1 L434.3,265.7 L434.4,265.8 L434.7,267.4 L435.0,266.9 L435.3,268.9 L435.8,267.3 L436.2,269.6 L436.3,269.7 L436.6,269.1 L436.9,270.9 L437.0,271.0 L437.3,270.7 L437.9,272.6 L438.0,272.6 L438.1,272.5 L438.4,271.4 L438.6,272.6 L438.9,272.4 L439.1,273.6 L439.5,273.9 L439.7,274.9 L439.8,275.0 L440.0,274.8 L440.0,274.8 L440.7,278.3 L441.0,276.9 L441.3,277.3 L441.5,276.8 L441.8,279.1 L441.9,279.1 L442.2,276.9 L442.2,277.0 L443.1,284.0 L443.5,279.9 L443.6,279.3 L444.2,282.5 L444.7,279.2 L445.1,281.2 L445.4,280.4 L445.7,279.3 L445.8,279.2 L446.0,280.4 L446.3,279.3 L446.7,278.9 L446.9,279.0 L447.1,277.8 L447.5,278.6 L447.8,277.0 L448.0,276.9 L448.2,277.2 L448.9,273.1 L448.9,273.0 L449.1,273.4 L449.3,273.1 L449.6,273.3 L449.9,271.2 L450.2,270.9 L450.5,269.4 L450.7,269.0 L451.3,267.2 L451.4,267.0 L451.6,267.5 L452.0,267.4 L452.7,264.0 L452.8,263.8 L453.0,263.9 L453.1,263.8 L453.4,262.4 L454.3,261.0 L454.7,259.5 L455.0,259.3 L455.3,258.4 L455.7,258.1 L456.0,257.2 L456.9,255.7 L457.3,254.3 L457.7,253.8 L460.1,248.0 L462.2,242.3" fill="none" stroke="#7a14a8" stroke-width="0.95" stroke-linejoin="round" stroke-opacity="0.85"/>
<path d="M554.6,265.4 L555.1,267.2 L556.1,272.3 L556.5,273.0 L556.8,274.4 L556.9,274.5 L557.2,274.3 L557.5,277.2 L558.1,279.4 L558.1,279.4 L558.4,278.7 L558.6,278.8 L558.7,279.1 L559.1,282.6 L559.2,282.9 L559.4,282.7 L559.5,283.0 L559.9,286.1 L560.3,288.0 L560.8,291.9 L561.2,288.9 L561.5,290.4 L562.0,289.5 L562.3,287.3 L562.4,287.1 L562.6,287.4 L562.7,287.2 L563.4,280.8 L563.5,280.5 L563.7,280.5 L563.9,279.6 L564.0,279.4 L564.2,279.4 L564.3,279.0 L565.1,271.9 L565.2,271.7 L565.4,271.8 L565.5,271.6 L565.9,269.4 L566.1,269.4 L566.2,269.3 L566.6,267.8 L567.1,267.0 L567.5,264.7 L567.5,264.6 L567.7,264.9 L567.8,264.8 L568.2,262.9 L568.5,263.9 L568.6,263.8 L568.9,261.7 L569.2,261.6 L569.7,260.8 L570.1,259.1 L570.6,259.9 L571.0,258.5 L571.2,258.5 L571.7,257.8 L572.1,258.0 L572.7,257.0 L573.0,256.8 L573.3,256.1 L573.7,256.2 L574.6,254.7 L574.8,254.6 L575.0,254.8 L575.5,254.3 L576.4,252.8 L576.6,252.8 L576.9,253.1 L577.4,252.4 L577.7,252.3 L578.0,251.9 L578.3,252.0 L578.6,251.5 L579.0,251.5 L579.4,251.2 L580.0,250.5 L580.4,250.6 L581.6,249.8 L581.9,249.8 L583.1,249.1 L584.0,248.9 L585.5,248.1 L588.2,247.1 L593.2,245.6 L598.4,244.5 L604.3,243.5 L611.0,242.7 L618.5,242.0" fill="none" stroke="#7a14a8" stroke-width="0.95" stroke-linejoin="round" stroke-opacity="0.85"/>
<path d="M373.6,241.0 L381.6,242.1 L388.7,243.3 L395.3,244.5 L401.2,245.9 L406.3,247.3 L407.7,247.8 L408.9,248.0 L411.5,249.1 L412.8,249.4 L413.7,250.0 L414.1,249.9 L414.6,250.3 L414.9,250.4 L415.1,250.6 L416.0,250.8 L416.3,251.4 L416.8,251.3 L417.0,251.5 L417.4,251.5 L417.8,251.9 L418.1,251.9 L418.3,252.2 L418.7,252.4 L419.1,252.9 L419.5,252.6 L419.9,253.0 L420.4,253.1 L420.8,253.8 L421.2,253.0 L421.7,253.9 L422.1,253.4 L422.5,254.5 L422.6,254.6 L422.9,254.3 L423.4,254.8 L423.7,254.9 L424.1,255.9 L424.4,255.4 L424.7,256.2 L425.0,256.5 L425.3,257.2 L425.7,257.3 L426.1,256.7 L426.4,256.5 L427.0,257.9 L427.3,257.9 L427.5,258.1 L427.7,258.0 L427.8,258.0 L428.2,259.3 L428.5,259.1 L428.9,259.8 L429.3,259.3 L429.4,259.3 L429.7,259.8 L429.9,261.0 L430.2,259.3 L430.3,259.0 L430.4,259.1 L431.1,261.8 L431.2,262.0 L431.7,262.2 L432.1,263.7 L432.6,263.9 L432.9,263.6 L433.7,265.8 L434.0,265.1 L434.1,265.0 L434.2,265.0 L434.7,266.1 L434.8,266.2 L435.1,266.0 L435.2,266.1 L435.6,267.2 L435.9,267.2 L436.2,268.6 L436.3,268.6 L436.5,268.0 L436.6,268.1 L436.9,269.5 L437.4,270.6 L437.9,273.0 L438.0,273.1 L438.1,273.0 L438.2,272.8 L438.4,271.2 L438.5,270.9 L438.6,271.0 L438.9,272.8 L439.1,273.0 L439.4,274.0 L439.5,274.0 L439.6,274.2 L439.9,275.6 L440.1,276.3 L440.2,276.4 L440.4,276.1 L440.5,276.2 L440.9,277.9 L440.9,278.0 L441.2,277.5 L441.3,277.6 L441.9,279.7 L442.2,278.7 L443.2,282.4 L443.7,280.7 L443.8,280.8 L444.0,282.5 L444.3,282.0 L444.6,283.7 L445.1,281.5 L445.3,281.8 L445.6,281.6 L445.8,281.7 L445.9,281.5 L446.3,279.1 L446.8,281.7 L446.9,281.9 L447.0,281.8 L447.6,278.4 L447.7,278.3 L447.9,278.6 L448.0,278.2 L448.8,273.0 L449.1,274.3 L449.3,274.4 L449.4,274.1 L449.8,272.6 L450.2,272.0 L450.6,270.3 L450.8,269.6 L451.1,269.6 L451.3,268.5 L451.6,268.1 L452.2,264.8 L452.5,265.8 L452.6,265.9 L452.7,265.7 L453.3,262.8 L453.7,262.3 L454.0,261.2 L454.2,261.4 L454.3,261.3 L454.8,259.7 L455.0,259.5 L455.2,259.6 L455.4,259.5 L455.7,258.4 L456.1,257.6 L456.7,255.6 L457.2,254.9 L457.6,253.8 L458.9,251.1 L460.7,246.6 L462.2,242.4" fill="none" stroke="#5530a0" stroke-width="0.95" stroke-linejoin="round" stroke-opacity="0.85"/>
<path d="M554.6,266.0 L555.1,268.0 L555.9,272.8 L556.3,273.7 L556.9,277.8 L557.0,278.1 L557.2,278.0 L557.3,278.3 L558.2,285.8 L558.3,285.9 L558.5,285.1 L558.6,285.5 L559.0,289.2 L559.6,300.9 L559.7,301.6 L559.9,302.1 L560.3,307.0 L560.6,304.6 L560.7,304.3 L560.8,304.3 L560.9,304.2 L561.2,302.7 L562.7,286.4 L563.5,279.7 L563.7,279.0 L563.9,279.1 L564.0,278.9 L564.4,275.0 L564.8,274.2 L565.5,269.3 L565.7,269.0 L566.0,269.3 L566.3,269.0 L566.6,268.6 L567.3,264.9 L567.4,264.7 L567.6,264.8 L567.8,264.7 L568.4,261.9 L568.8,262.7 L569.2,262.0 L569.4,261.1 L569.5,261.1 L569.7,261.2 L570.1,260.9 L570.4,260.0 L571.0,258.9 L571.2,258.8 L571.5,258.9 L571.8,258.4 L572.1,256.7 L572.2,256.6 L572.6,257.5 L573.1,256.4 L573.5,256.2 L573.9,255.0 L574.0,255.0 L574.2,255.1 L574.6,254.6 L575.0,255.1 L576.0,253.3 L576.4,253.1 L576.8,253.1 L577.3,252.3 L578.0,252.4 L578.3,251.9 L579.0,251.7 L579.9,250.6 L580.8,250.5 L582.2,249.6 L583.0,249.3 L583.4,248.9 L584.0,248.5 L584.8,248.3 L587.0,247.4 L589.5,246.5 L595.3,245.0 L601.9,243.7 L609.6,242.6 L618.5,241.8" fill="none" stroke="#5530a0" stroke-width="0.95" stroke-linejoin="round" stroke-opacity="0.85"/>
<path d="M373.6,241.3 L381.3,242.3 L388.3,243.5 L394.8,244.7 L400.6,246.0 L406.5,247.6 L409.1,248.5 L409.4,248.7 L411.2,249.2 L411.6,249.6 L412.3,249.5 L412.9,249.8 L413.6,250.4 L414.4,250.2 L414.8,250.7 L415.9,250.9 L416.3,251.4 L416.8,251.4 L417.2,251.7 L417.5,251.7 L418.2,252.6 L418.9,252.5 L419.2,252.7 L419.7,252.6 L420.3,253.3 L420.7,253.1 L421.5,254.0 L421.8,254.0 L422.1,254.5 L422.4,254.3 L422.7,255.2 L423.0,255.3 L423.2,255.6 L423.6,255.5 L423.9,255.1 L424.6,256.4 L424.9,255.9 L425.4,257.4 L426.0,256.4 L426.3,256.6 L426.8,257.2 L427.3,258.5 L427.5,258.4 L427.8,257.8 L427.9,257.7 L428.4,259.0 L428.9,259.3 L429.1,259.6 L429.4,261.0 L429.7,260.8 L429.9,260.8 L430.2,260.1 L430.3,260.0 L431.0,262.2 L431.4,262.4 L431.7,261.5 L432.1,263.9 L432.2,263.9 L432.5,263.6 L432.8,264.2 L433.2,264.2 L433.7,266.0 L434.2,265.0 L434.5,265.9 L435.0,265.7 L435.4,267.3 L435.8,267.9 L436.0,268.0 L436.4,268.9 L436.6,269.0 L437.3,270.8 L437.7,269.1 L438.1,271.5 L438.6,272.9 L439.0,275.4 L439.3,273.7 L439.5,274.8 L439.6,274.6 L440.0,272.4 L440.4,277.2 L440.7,277.8 L441.0,277.4 L441.3,276.9 L441.6,279.0 L441.8,278.8 L441.9,279.1 L442.3,281.8 L442.6,278.4 L442.8,277.8 L443.2,280.5 L443.5,279.8 L443.8,280.9 L444.2,280.2 L444.5,282.5 L444.8,283.0 L445.0,284.3 L445.4,280.1 L445.5,280.0 L445.8,280.2 L445.8,280.0 L446.2,278.7 L446.4,276.6 L446.5,276.5 L446.6,277.0 L446.8,280.0 L447.0,280.8 L447.4,277.9 L447.6,277.5 L448.0,277.7 L448.0,277.3 L448.4,273.0 L448.5,272.9 L448.8,273.1 L448.9,273.1 L449.2,272.8 L449.4,272.0 L449.8,272.6 L450.0,272.3 L450.3,270.7 L450.6,270.3 L450.9,268.7 L451.2,268.1 L451.5,268.6 L451.6,268.5 L451.9,266.2 L452.3,265.2 L452.6,265.1 L452.8,264.8 L453.2,262.8 L453.6,264.0 L453.9,262.1 L454.2,261.7 L454.8,259.4 L455.1,259.2 L455.6,257.7 L456.0,257.3 L456.5,255.9 L457.8,253.5 L458.2,252.2 L459.0,250.8 L460.6,246.7 L462.2,242.3" fill="none" stroke="#6414a8" stroke-width="0.95" stroke-linejoin="round" stroke-opacity="0.85"/>
<path d="M554.6,266.7 L555.9,272.8 L556.2,275.2 L556.3,275.7 L556.6,275.6 L556.7,275.8 L556.9,277.3 L557.3,278.6 L558.2,284.2 L558.5,282.1 L558.6,282.0 L558.9,282.9 L559.0,282.8 L559.4,281.9 L559.5,281.2 L559.8,280.9 L560.1,278.7 L560.3,279.1 L560.4,278.9 L561.1,275.0 L561.2,274.9 L561.5,277.9 L561.9,274.5 L562.4,273.6 L562.8,274.8 L563.3,267.7 L563.8,269.4 L564.1,268.9 L564.3,269.3 L564.5,269.3 L565.0,266.9 L565.3,267.5 L565.4,267.4 L565.7,266.4 L566.0,266.1 L566.5,265.0 L566.8,265.2 L566.9,265.1 L567.3,263.1 L567.5,263.8 L567.6,263.7 L568.8,260.3 L569.5,259.8 L569.8,259.2 L570.1,259.0 L570.3,258.3 L570.4,258.3 L570.7,258.6 L571.0,258.5 L571.2,258.7 L571.6,257.3 L571.9,257.2 L572.4,256.5 L572.7,256.6 L572.9,256.3 L573.2,256.3 L573.5,255.4 L573.9,255.2 L574.2,254.6 L574.5,254.8 L574.8,254.1 L575.5,254.0 L576.1,253.2 L576.4,253.2 L576.7,253.0 L577.3,252.1 L577.7,252.2 L578.0,251.9 L578.3,252.1 L578.5,252.1 L579.0,251.2 L579.7,251.0 L580.4,250.0 L580.5,249.9 L580.9,250.1 L581.7,249.8 L582.6,249.2 L583.1,249.1 L583.5,248.8 L584.0,248.8 L585.4,248.1 L589.2,246.7 L592.8,245.7 L596.7,244.8 L601.3,243.9 L606.5,243.2 L612.2,242.5 L618.5,242.0" fill="none" stroke="#6414a8" stroke-width="0.95" stroke-linejoin="round" stroke-opacity="0.85"/>
<path d="M373.6,241.5 L382.9,242.8 L391.3,244.2 L398.5,245.8 L405.4,247.6 L407.3,248.1 L408.3,248.5 L408.9,248.6 L410.3,249.2 L410.7,249.2 L411.5,249.8 L412.7,250.0 L413.2,250.3 L413.7,250.1 L415.0,251.4 L415.8,251.4 L416.4,251.7 L416.8,251.4 L417.3,251.6 L417.9,252.8 L418.4,252.6 L418.6,252.6 L419.0,252.5 L419.4,253.1 L419.7,253.0 L420.1,253.4 L420.4,253.4 L421.1,253.9 L422.0,255.2 L422.1,255.2 L422.4,254.7 L422.8,255.7 L423.0,255.6 L423.5,254.8 L424.0,255.9 L424.4,256.0 L424.8,256.8 L425.1,256.0 L425.3,255.9 L425.7,257.5 L426.0,257.3 L426.2,257.6 L426.5,257.6 L426.9,258.0 L427.5,257.8 L427.9,259.1 L427.9,259.1 L428.3,258.3 L428.6,259.2 L429.0,259.5 L429.4,260.5 L429.7,260.6 L430.1,260.0 L430.6,261.7 L430.6,261.8 L430.9,261.8 L431.3,262.6 L431.5,262.6 L431.7,262.1 L431.9,262.0 L432.4,264.0 L432.8,263.4 L433.2,265.7 L433.5,264.8 L433.9,265.0 L434.2,265.6 L434.5,265.4 L434.6,265.4 L434.8,266.3 L434.9,266.5 L435.1,266.5 L435.9,268.5 L436.0,268.3 L436.5,266.4 L437.1,270.1 L437.3,271.0 L437.5,271.1 L437.7,270.6 L438.2,270.3 L438.6,270.7 L439.1,274.9 L439.2,275.0 L439.5,274.1 L439.5,274.0 L439.6,274.0 L440.0,275.9 L440.0,276.1 L440.2,275.8 L440.3,275.9 L440.6,277.6 L440.9,277.6 L441.2,275.4 L441.7,279.4 L441.8,279.4 L442.3,277.9 L442.9,282.0 L443.3,279.5 L443.4,279.4 L443.5,279.8 L443.8,281.9 L443.9,282.0 L444.0,281.7 L444.2,280.2 L444.6,283.2 L445.0,278.2 L445.4,280.8 L445.5,280.9 L445.8,280.6 L446.0,281.8 L446.5,278.7 L446.8,282.1 L446.9,282.1 L447.1,280.6 L447.3,280.7 L447.5,280.2 L448.0,275.6 L448.0,275.3 L448.3,276.1 L448.4,276.1 L448.8,274.2 L449.0,274.1 L449.3,273.5 L449.5,273.6 L449.6,273.4 L450.0,270.3 L450.3,270.9 L450.7,270.3 L450.9,270.5 L451.0,270.4 L451.5,266.3 L452.0,265.6 L452.2,265.8 L452.3,265.7 L452.6,264.3 L452.7,264.2 L452.9,264.3 L453.3,263.3 L454.1,262.2 L454.3,261.1 L454.7,260.8 L455.5,258.2 L456.1,257.2 L456.5,256.3 L457.9,253.4 L459.7,249.0 L462.2,242.3" fill="none" stroke="#7a14a8" stroke-width="0.95" stroke-linejoin="round" stroke-opacity="0.85"/>
<path d="M554.6,265.3 L555.3,267.1 L555.9,269.4 L556.1,269.8 L556.5,272.1 L556.9,272.6 L557.2,273.4 L557.3,273.2 L557.9,270.7 L558.2,271.7 L559.0,276.2 L559.1,276.7 L559.4,276.3 L559.6,276.6 L560.0,280.6 L560.3,279.8 L560.3,280.0 L560.8,286.2 L560.8,286.7 L561.1,286.3 L561.4,288.0 L561.7,287.4 L562.2,285.3 L562.3,285.2 L562.4,285.5 L562.6,286.9 L563.1,281.4 L563.3,280.7 L563.7,280.3 L563.8,280.0 L564.2,274.8 L564.5,273.3 L564.6,273.2 L564.9,273.2 L565.1,273.0 L565.5,270.5 L565.7,270.2 L566.0,269.4 L566.3,269.4 L567.0,265.7 L567.1,265.5 L567.4,265.8 L567.9,263.6 L568.0,263.3 L568.4,263.5 L568.9,261.7 L569.2,261.9 L569.2,261.9 L569.6,260.4 L569.9,260.8 L570.4,259.1 L570.6,258.9 L571.0,260.3 L571.0,260.3 L571.4,258.7 L571.9,257.3 L572.0,257.2 L572.4,257.9 L572.7,257.1 L573.3,256.4 L573.7,255.2 L574.1,255.7 L575.1,254.6 L575.5,254.9 L576.3,253.4 L576.4,253.3 L576.8,253.5 L577.1,252.8 L577.4,252.8 L577.9,252.3 L578.4,251.6 L578.8,251.9 L579.6,251.1 L580.4,250.9 L580.8,250.5 L581.8,250.1 L582.4,249.7 L583.1,249.6 L583.6,249.1 L584.8,248.7 L585.4,248.3 L591.0,246.5 L596.5,245.1 L602.9,243.9 L610.2,243.0 L618.5,242.3" fill="none" stroke="#7a14a8" stroke-width="0.95" stroke-linejoin="round" stroke-opacity="0.85"/>
<path d="M373.6,240.8 L382.3,241.9 L390.1,243.2 L397.2,244.6 L403.4,246.2 L406.3,247.0 L407.8,247.6 L408.8,247.8 L409.7,248.2 L410.1,248.1 L411.4,248.8 L413.4,249.4 L413.8,249.7 L414.4,249.8 L415.2,250.5 L415.6,249.9 L416.0,250.6 L416.6,250.7 L417.2,251.3 L417.6,251.2 L418.1,251.7 L418.4,251.5 L418.6,251.6 L419.0,252.2 L419.2,251.9 L419.6,252.2 L419.9,252.0 L420.1,252.0 L420.6,253.0 L420.9,253.2 L421.2,253.8 L421.7,253.8 L422.0,253.4 L422.3,253.5 L422.7,254.4 L423.1,254.7 L423.4,255.0 L423.9,254.6 L424.5,254.8 L424.8,254.8 L425.3,255.3 L425.7,255.0 L426.2,256.6 L426.7,257.4 L427.1,257.5 L427.4,258.1 L427.9,258.1 L428.3,257.8 L428.6,259.2 L428.7,259.3 L428.8,259.2 L429.0,259.2 L429.5,260.3 L429.8,259.4 L430.2,259.9 L430.4,259.4 L430.8,260.8 L431.1,260.7 L431.5,260.9 L431.9,262.3 L432.1,261.9 L432.4,262.5 L432.8,262.4 L433.7,264.6 L433.7,264.6 L434.0,264.4 L434.1,264.4 L434.4,265.5 L434.7,265.6 L435.1,264.9 L435.2,265.0 L436.0,268.6 L436.0,268.7 L436.1,268.6 L436.4,267.8 L436.7,267.7 L437.3,270.6 L437.5,270.7 L437.8,270.5 L438.2,271.6 L438.4,271.0 L438.5,271.0 L438.8,273.2 L439.1,273.2 L439.3,273.3 L440.0,275.5 L440.0,275.5 L440.1,275.3 L440.4,273.6 L440.7,275.0 L441.0,275.6 L441.5,278.7 L441.8,277.1 L442.2,280.0 L442.3,280.1 L442.6,279.3 L443.0,280.7 L443.3,280.1 L444.0,283.8 L444.1,283.5 L444.5,280.9 L444.9,283.2 L445.4,283.1 L445.8,281.7 L446.0,282.2 L446.2,282.1 L446.2,282.3 L446.5,283.7 L446.6,283.7 L446.8,282.7 L447.1,282.8 L447.1,282.6 L447.7,279.4 L447.8,279.3 L448.0,279.5 L448.2,279.2 L448.7,276.2 L448.9,275.3 L449.4,274.3 L449.8,272.3 L449.8,272.1 L450.1,273.0 L450.2,272.8 L450.5,270.1 L450.7,270.3 L451.3,268.2 L451.6,268.7 L451.6,268.7 L451.9,267.4 L453.0,264.2 L453.7,262.7 L454.1,262.2 L454.3,261.5 L454.7,261.3 L455.1,259.0 L455.5,258.7 L456.0,257.7 L456.9,255.4 L457.4,254.8 L458.5,252.2 L460.5,247.0 L462.2,242.4" fill="none" stroke="#4840a0" stroke-width="0.95" stroke-linejoin="round" stroke-opacity="0.85"/>
<path d="M554.6,267.3 L555.8,273.8 L556.4,278.5 L556.8,282.0 L557.0,282.8 L557.3,287.7 L557.6,289.4 L558.5,300.9 L558.9,307.1 L559.9,307.2 L560.3,297.9 L560.6,296.3 L560.9,291.6 L561.2,290.8 L561.5,286.3 L561.6,286.0 L561.7,286.1 L561.8,285.8 L562.1,282.8 L562.7,282.1 L562.8,281.7 L563.3,277.2 L563.5,275.9 L563.9,275.4 L564.1,274.6 L564.5,271.1 L565.3,268.8 L565.4,268.8 L565.7,269.3 L565.7,269.3 L565.8,269.2 L566.1,267.1 L566.2,266.9 L566.5,267.0 L566.6,266.8 L567.1,263.7 L567.7,263.3 L568.0,262.2 L568.3,262.8 L568.5,262.5 L568.8,263.0 L568.8,263.1 L568.9,263.0 L569.2,261.5 L569.6,261.3 L570.1,260.3 L570.6,260.1 L571.0,258.7 L571.3,258.9 L571.9,257.9 L572.1,257.7 L572.4,256.8 L572.8,256.7 L573.0,256.4 L573.4,256.6 L574.0,255.1 L574.3,254.9 L574.7,255.3 L575.2,254.2 L575.6,253.7 L576.2,253.1 L576.5,253.1 L577.1,252.7 L577.4,252.0 L577.9,252.3 L578.3,251.7 L578.9,251.2 L579.5,251.0 L579.9,250.6 L580.3,250.6 L581.7,249.6 L583.1,248.8 L583.9,248.7 L585.0,248.0 L589.2,246.5 L595.0,244.8 L601.7,243.5 L609.4,242.4 L618.5,241.6" fill="none" stroke="#4840a0" stroke-width="0.95" stroke-linejoin="round" stroke-opacity="0.85"/>
<path d="M373.6,241.3 L382.0,242.4 L389.6,243.7 L396.4,245.1 L402.5,246.5 L407.9,248.1 L408.7,248.3 L409.1,248.6 L411.0,249.0 L411.4,249.4 L411.7,249.3 L412.4,249.6 L412.9,250.0 L413.8,250.3 L414.2,250.8 L415.0,250.8 L416.8,251.6 L417.2,251.9 L417.5,251.8 L417.8,252.3 L418.1,252.2 L418.3,252.4 L418.6,252.3 L419.4,253.2 L419.7,252.9 L420.0,253.1 L420.3,253.0 L420.7,253.4 L421.1,254.6 L421.5,253.9 L421.8,254.0 L422.1,254.4 L422.5,254.5 L422.8,254.5 L423.1,255.0 L423.5,255.2 L424.4,256.8 L424.7,256.6 L425.0,256.8 L425.3,256.5 L426.0,257.7 L426.4,257.2 L426.9,258.6 L427.3,257.5 L427.5,257.5 L427.7,257.6 L428.4,259.8 L428.8,259.0 L429.1,259.5 L429.4,259.6 L429.7,260.3 L429.7,260.3 L430.0,259.9 L430.3,261.0 L430.6,260.7 L430.7,260.8 L431.1,262.4 L431.5,261.2 L431.9,261.8 L432.4,263.1 L433.0,264.3 L433.3,264.7 L433.7,265.9 L434.0,265.3 L434.1,265.3 L434.3,266.2 L434.4,266.4 L434.6,266.4 L434.9,267.1 L435.1,266.9 L435.4,267.1 L435.6,266.2 L436.0,268.0 L436.3,268.5 L436.6,269.4 L436.9,271.4 L437.0,271.6 L437.1,271.5 L437.3,270.7 L437.3,270.5 L437.4,270.6 L438.0,273.7 L438.2,273.5 L438.5,272.1 L438.9,274.2 L439.2,273.0 L439.3,273.1 L439.8,275.1 L440.2,278.8 L440.5,277.9 L440.8,277.5 L441.0,276.4 L441.1,276.5 L441.3,278.0 L441.4,278.2 L441.7,278.2 L441.8,278.3 L442.0,279.5 L442.1,279.6 L442.3,278.9 L442.6,279.5 L442.7,279.3 L442.8,279.5 L443.2,282.6 L443.5,281.6 L443.5,281.5 L443.8,282.1 L443.9,282.1 L444.2,279.9 L444.6,282.4 L444.9,280.5 L445.0,280.3 L445.3,280.3 L445.3,280.2 L446.0,278.6 L446.2,278.8 L446.5,278.8 L446.9,280.6 L447.6,275.5 L448.0,277.2 L448.4,275.8 L448.5,275.8 L448.8,276.0 L449.2,275.7 L449.7,271.9 L450.0,272.4 L450.6,269.3 L450.8,269.4 L451.1,267.8 L451.2,267.8 L451.5,268.3 L452.2,265.5 L452.7,264.6 L452.9,264.6 L452.9,264.5 L453.3,263.4 L453.5,263.4 L454.2,261.1 L454.9,260.1 L455.2,259.9 L455.8,257.8 L456.7,255.8 L457.6,254.2 L460.4,247.4 L462.2,242.3" fill="none" stroke="#5530a0" stroke-width="0.95" stroke-linejoin="round" stroke-opacity="0.85"/>
<path d="M554.6,268.4 L555.9,277.5 L556.5,284.6 L556.7,285.2 L556.8,285.1 L557.0,285.2 L557.6,286.4 L558.0,288.5 L558.3,286.5 L558.4,286.3 L558.6,286.9 L559.0,282.9 L559.3,283.5 L559.8,278.7 L560.1,276.9 L560.3,276.6 L560.5,276.6 L560.8,276.9 L561.1,276.6 L561.6,272.8 L561.7,272.6 L562.0,273.2 L562.1,273.1 L562.3,271.9 L562.6,271.2 L563.0,269.5 L563.4,270.6 L564.2,267.2 L564.3,267.2 L564.5,268.3 L564.9,265.7 L565.3,266.8 L565.9,265.6 L566.2,265.7 L566.9,263.4 L567.1,263.1 L567.5,261.8 L567.8,262.3 L568.0,262.4 L568.4,260.9 L568.8,262.0 L568.9,262.1 L569.1,262.1 L569.5,260.9 L569.8,260.9 L570.5,258.7 L570.8,259.1 L571.0,258.9 L571.3,259.2 L571.9,257.1 L572.2,256.5 L572.4,256.6 L572.7,257.5 L573.0,256.2 L573.2,255.9 L573.6,255.7 L574.1,254.1 L574.5,254.5 L574.7,254.2 L575.1,254.5 L576.2,253.0 L576.5,253.1 L576.9,252.6 L577.3,252.8 L577.8,252.0 L578.5,251.4 L578.9,251.5 L579.1,251.4 L580.6,250.3 L581.0,250.3 L581.7,250.1 L582.4,249.4 L583.1,249.2 L583.6,248.8 L584.3,248.7 L585.6,248.0 L587.5,247.4 L592.0,245.9 L597.5,244.7 L603.6,243.6 L610.6,242.7 L618.5,242.0" fill="none" stroke="#5530a0" stroke-width="0.95" stroke-linejoin="round" stroke-opacity="0.85"/>
<path d="M373.6,241.3 L381.6,242.4 L388.9,243.6 L395.5,244.9 L401.5,246.3 L406.2,247.6 L407.4,248.0 L409.0,248.4 L409.7,248.8 L410.0,248.8 L410.7,249.0 L411.6,249.6 L411.9,249.6 L412.3,249.8 L412.8,249.8 L413.2,250.1 L414.2,250.3 L415.2,251.1 L415.5,250.9 L415.9,251.4 L416.3,251.3 L417.2,251.9 L417.8,252.0 L418.2,252.2 L418.6,252.8 L419.0,252.9 L419.4,252.7 L419.8,253.4 L420.2,253.0 L420.5,253.6 L421.2,254.0 L421.8,254.1 L422.1,253.9 L422.5,254.7 L422.7,254.7 L422.8,254.8 L423.4,256.0 L423.5,256.1 L423.8,255.3 L423.9,255.5 L424.5,255.8 L424.7,256.0 L425.1,257.3 L425.3,257.1 L425.7,257.2 L425.9,256.7 L426.1,256.7 L426.7,258.1 L427.3,258.2 L427.9,259.2 L428.4,258.6 L429.0,260.0 L429.3,260.1 L429.5,260.6 L429.8,260.5 L430.2,260.8 L430.6,259.9 L431.1,262.3 L431.1,262.3 L431.4,261.7 L432.0,262.8 L432.4,263.0 L432.7,262.9 L432.8,263.2 L433.3,266.5 L433.8,265.0 L434.2,266.7 L434.3,266.8 L434.6,266.4 L434.9,267.0 L435.1,266.6 L435.4,267.4 L435.6,267.5 L436.1,269.5 L436.4,268.8 L436.5,268.9 L437.2,271.3 L437.4,270.6 L437.7,270.7 L437.8,270.6 L438.3,273.8 L438.5,274.1 L438.7,273.9 L438.9,274.2 L439.4,276.4 L439.7,273.9 L439.9,273.5 L440.5,277.4 L440.6,277.5 L440.9,277.0 L441.1,277.6 L441.3,277.5 L441.4,277.7 L442.0,281.4 L442.1,281.5 L442.6,280.5 L442.9,281.2 L443.3,280.8 L443.7,278.7 L444.2,283.4 L444.6,281.1 L444.9,279.9 L445.0,279.9 L445.3,283.5 L445.5,284.1 L446.1,278.8 L446.5,278.4 L446.8,279.4 L447.1,278.3 L447.4,278.6 L447.8,278.3 L448.1,276.1 L448.4,275.4 L448.9,273.1 L449.0,272.9 L449.3,273.3 L449.3,273.3 L450.2,271.3 L450.6,270.9 L451.0,267.9 L451.1,267.8 L451.2,268.2 L451.3,268.2 L451.6,267.0 L451.9,267.3 L452.0,267.2 L452.5,265.7 L452.8,263.6 L453.2,263.7 L453.5,263.4 L453.9,261.6 L454.2,261.3 L455.3,259.3 L455.6,258.1 L456.7,255.4 L457.2,254.9 L457.8,253.1 L458.7,251.6 L460.5,246.9 L462.2,242.3" fill="none" stroke="#6414a8" stroke-width="0.95" stroke-linejoin="round" stroke-opacity="0.85"/>
<path d="M554.6,265.4 L555.0,266.7 L555.4,267.7 L556.3,271.4 L556.4,271.6 L556.7,271.5 L556.8,271.7 L557.2,272.8 L557.7,273.4 L558.1,275.2 L558.2,275.0 L558.5,273.8 L559.0,277.5 L559.4,275.9 L559.6,273.7 L560.0,279.1 L560.2,279.5 L560.4,278.6 L560.5,278.5 L560.7,278.5 L560.8,278.2 L561.2,274.8 L561.3,274.5 L561.6,275.4 L561.8,274.7 L561.9,274.5 L562.1,274.6 L562.4,272.5 L562.5,272.2 L562.6,272.3 L562.7,272.2 L563.1,270.6 L563.4,271.5 L563.4,271.7 L563.5,271.5 L563.8,270.3 L564.0,269.8 L564.3,268.2 L564.7,267.1 L564.8,267.1 L565.1,267.9 L565.7,265.9 L566.1,265.9 L566.4,265.4 L566.9,262.2 L567.0,261.9 L567.3,262.1 L567.6,260.4 L567.9,261.4 L568.7,260.4 L568.9,260.5 L569.2,261.3 L569.7,259.8 L570.2,258.8 L571.0,258.4 L571.4,257.1 L571.8,257.5 L572.4,256.1 L572.9,256.6 L573.3,255.5 L573.6,255.4 L573.9,254.5 L574.1,254.7 L574.5,253.4 L574.9,254.4 L575.2,253.9 L575.8,254.0 L576.6,252.6 L577.0,252.6 L578.0,251.2 L578.4,251.1 L579.0,251.2 L579.5,250.5 L579.9,250.6 L580.4,250.0 L580.9,250.4 L581.9,249.5 L584.0,248.7 L584.4,248.4 L588.4,246.9 L592.4,245.7 L597.8,244.5 L603.9,243.5 L610.7,242.7 L618.5,242.0" fill="none" stroke="#6414a8" stroke-width="0.95" stroke-linejoin="round" stroke-opacity="0.85"/>
<path d="M373.6,244.9 L380.7,245.9 L387.3,246.9 L393.3,248.1 L398.8,249.4 L404.1,250.8 L409.5,252.5 L413.5,254.2 L413.8,254.3 L415.3,254.9 L416.4,255.6 L416.9,255.7 L417.4,256.1 L419.0,256.8 L420.7,258.0 L421.2,258.1 L421.7,258.6 L423.7,260.0 L424.8,260.6 L425.2,261.0 L426.7,262.3 L427.1,262.4 L427.9,263.4 L428.4,263.8 L429.1,264.8 L429.5,264.8 L430.9,266.2 L431.9,267.6 L432.6,268.8 L432.9,268.8 L433.4,269.0 L434.0,270.4 L434.3,270.4 L435.1,271.7 L435.4,272.0 L436.8,274.1 L437.2,274.2 L437.6,274.7 L437.9,275.7 L438.2,275.8 L438.6,276.1 L439.5,277.8 L440.0,277.4 L440.4,278.2 L440.6,278.2 L441.0,278.5 L441.3,278.9 L441.7,278.6 L441.9,279.1 L442.2,279.2 L442.5,279.4 L442.9,278.6 L443.2,279.0 L443.9,278.1 L444.1,278.0 L444.8,276.2 L445.0,276.3 L445.4,275.4 L445.8,275.2 L446.2,274.8 L446.9,273.2 L447.2,272.9 L447.5,271.7 L448.0,271.4 L448.4,270.1 L448.7,269.7 L449.0,268.8 L449.5,268.3 L450.2,266.9 L450.7,265.5 L451.5,264.7 L452.1,262.8 L452.5,262.5 L453.5,260.3 L454.5,258.7 L455.4,256.6 L456.1,255.7 L458.4,251.3 L460.5,246.7 L462.2,242.1" fill="none" stroke="#e27ab4" stroke-width="0.95" stroke-linejoin="round" stroke-opacity="0.75"/>
<path d="M554.6,266.8 L555.4,271.5 L557.0,283.9 L557.6,285.8 L557.9,287.5 L558.1,287.7 L558.6,286.6 L559.0,284.9 L559.4,283.8 L559.7,281.8 L560.3,280.5 L561.3,275.5 L561.4,275.4 L561.7,275.5 L562.0,274.3 L562.3,273.7 L562.7,272.4 L563.0,272.0 L563.4,270.5 L563.8,269.7 L564.2,269.4 L564.6,268.7 L565.1,267.1 L565.6,266.8 L565.9,265.9 L566.6,265.4 L567.0,264.3 L567.5,263.7 L567.9,262.9 L568.7,261.9 L569.2,261.6 L570.3,259.9 L571.1,259.6 L571.5,258.8 L573.3,257.0 L573.8,256.9 L574.2,256.4 L577.4,254.2 L578.3,253.7 L578.8,253.5 L579.2,253.2 L581.1,252.4 L581.7,252.0 L585.5,250.6 L590.4,249.1 L596.1,247.8 L602.7,246.7 L610.1,245.9 L618.5,245.2" fill="none" stroke="#e27ab4" stroke-width="0.95" stroke-linejoin="round" stroke-opacity="0.75"/>
<path d="M373.6,244.3 L381.7,245.5 L389.1,246.7 L395.7,248.0 L401.6,249.5 L407.4,251.2 L413.2,253.4 L416.7,255.0 L417.5,255.6 L418.1,255.7 L420.3,257.0 L420.8,257.1 L422.5,258.4 L423.4,258.7 L423.7,259.1 L424.2,259.4 L425.0,260.4 L425.5,260.4 L426.2,261.2 L426.6,261.4 L427.0,262.0 L428.6,263.2 L428.9,263.8 L429.5,263.9 L430.4,265.1 L432.4,267.0 L434.2,269.8 L434.6,270.0 L435.1,271.4 L435.4,271.3 L435.7,271.6 L436.3,272.9 L437.2,273.2 L438.0,275.7 L438.2,275.8 L438.6,275.3 L438.9,276.0 L439.2,276.1 L439.9,277.5 L440.2,277.5 L440.4,277.3 L440.6,277.3 L440.9,277.7 L441.4,278.8 L441.9,279.0 L442.2,279.4 L442.4,279.2 L442.6,279.5 L443.1,278.6 L443.2,278.5 L443.5,278.7 L443.7,278.2 L444.0,277.9 L444.4,277.1 L444.8,277.4 L445.4,276.9 L445.9,275.8 L446.2,276.1 L446.2,276.0 L446.7,274.2 L447.5,273.1 L448.3,270.7 L448.9,270.0 L449.6,268.2 L450.0,267.9 L450.7,266.6 L451.2,264.8 L451.6,264.5 L452.4,262.7 L453.0,261.7 L453.4,260.7 L453.9,260.1 L454.6,258.7 L455.1,258.1 L455.6,256.6 L456.9,254.5 L458.7,250.9 L460.5,246.8 L462.2,242.1" fill="none" stroke="#e070b0" stroke-width="0.95" stroke-linejoin="round" stroke-opacity="0.75"/>
<path d="M554.6,266.9 L555.7,273.9 L557.0,283.9 L557.9,288.2 L558.1,288.7 L558.1,288.6 L558.6,287.8 L558.9,286.9 L559.4,286.3 L559.9,283.3 L560.3,281.7 L560.7,280.9 L561.4,277.7 L561.9,276.3 L562.6,273.3 L562.7,272.9 L563.0,272.7 L563.5,271.0 L564.3,269.4 L564.9,268.7 L565.3,267.3 L566.0,266.1 L566.4,265.7 L566.7,265.5 L567.3,264.4 L567.6,264.1 L568.0,263.1 L569.4,260.7 L569.9,260.7 L570.5,259.5 L570.9,259.4 L571.3,258.9 L571.6,258.7 L572.4,257.6 L573.2,257.4 L573.5,256.9 L574.0,256.7 L574.5,256.0 L575.1,255.7 L575.6,255.1 L576.5,254.7 L578.1,253.6 L579.9,252.7 L580.4,252.3 L581.3,252.1 L582.7,251.3 L583.2,251.2 L584.4,250.7 L587.0,249.7 L592.4,248.2 L597.8,247.1 L603.9,246.1 L610.7,245.4 L618.5,244.7" fill="none" stroke="#e070b0" stroke-width="0.95" stroke-linejoin="round" stroke-opacity="0.75"/>
<path d="M373.6,243.8 L380.7,244.8 L387.3,245.8 L393.2,247.0 L398.7,248.2 L403.1,249.3 L407.9,250.8 L412.8,252.6 L413.3,253.0 L414.8,253.4 L416.6,254.3 L417.1,254.6 L418.9,255.5 L420.4,256.5 L421.0,256.6 L421.3,257.0 L421.7,257.0 L422.2,257.5 L423.5,258.2 L423.9,258.7 L424.8,259.2 L425.9,260.3 L426.4,260.6 L427.0,261.2 L427.4,261.4 L427.6,261.7 L428.0,261.8 L429.0,263.0 L429.4,263.9 L430.0,263.9 L430.3,264.2 L430.8,264.3 L431.6,265.8 L432.3,266.3 L432.7,267.2 L433.2,267.7 L433.5,267.7 L433.9,268.6 L434.2,268.7 L434.4,268.9 L435.1,270.2 L435.8,270.7 L436.4,272.3 L436.8,272.4 L437.0,272.9 L437.3,272.9 L437.9,274.4 L439.2,276.2 L439.5,276.5 L439.9,277.4 L440.1,277.6 L440.4,278.3 L440.7,278.3 L441.0,278.7 L441.4,278.8 L442.1,278.5 L442.4,279.0 L443.1,279.2 L443.5,280.1 L444.0,278.3 L444.3,278.9 L444.5,278.7 L444.9,277.8 L445.3,278.2 L445.9,276.4 L446.1,276.4 L446.3,276.6 L446.4,276.6 L446.9,274.5 L447.9,272.8 L448.3,271.5 L448.8,270.9 L449.3,269.2 L449.8,268.6 L450.2,267.8 L450.5,267.7 L450.8,266.4 L451.2,265.8 L451.8,264.2 L452.7,262.9 L453.7,260.7 L454.1,260.1 L454.5,258.8 L455.1,258.2 L455.8,256.8 L458.9,250.5 L460.6,246.4 L462.2,242.2" fill="none" stroke="#dc64a8" stroke-width="0.95" stroke-linejoin="round" stroke-opacity="0.8"/>
<path d="M554.6,266.8 L555.7,273.6 L556.8,281.9 L557.7,288.0 L557.9,288.6 L558.2,288.2 L558.5,288.4 L559.1,288.0 L559.4,286.8 L559.7,286.5 L560.0,283.8 L560.7,281.0 L560.9,280.5 L562.0,276.7 L562.5,275.9 L563.1,272.9 L563.6,272.5 L564.2,270.1 L564.3,269.9 L564.7,269.7 L565.2,268.0 L565.7,267.6 L566.1,266.3 L567.0,265.2 L567.4,263.8 L568.4,262.9 L569.5,260.8 L569.9,260.7 L571.3,258.9 L571.9,258.5 L574.6,255.7 L575.2,255.4 L576.1,254.7 L576.7,254.5 L577.2,253.9 L577.7,253.7 L579.0,252.8 L582.5,251.1 L586.3,249.6 L591.4,248.1 L596.9,246.8 L603.2,245.8 L610.3,244.9 L618.5,244.3" fill="none" stroke="#dc64a8" stroke-width="0.95" stroke-linejoin="round" stroke-opacity="0.8"/>
<path d="M373.6,243.2 L380.7,244.2 L387.4,245.3 L393.4,246.4 L399.0,247.7 L403.4,248.8 L407.9,250.2 L413.6,252.2 L415.0,253.0 L415.9,253.2 L416.4,253.6 L417.0,253.8 L418.0,254.5 L420.0,255.4 L420.4,255.8 L420.8,255.9 L422.1,256.9 L422.5,256.9 L422.9,257.3 L423.3,257.3 L424.8,258.7 L425.5,258.9 L426.0,259.7 L426.6,260.2 L427.3,260.3 L427.8,260.6 L428.7,261.8 L429.6,262.4 L430.0,263.2 L430.3,263.3 L430.6,263.8 L431.0,263.9 L431.4,264.7 L432.0,265.1 L432.5,265.7 L432.9,266.5 L433.6,266.9 L434.0,267.8 L434.6,268.3 L436.1,270.4 L436.4,271.4 L437.0,271.9 L437.5,273.1 L437.7,273.2 L438.0,273.0 L439.0,274.8 L439.3,274.6 L439.4,274.6 L439.7,275.9 L439.9,276.0 L440.1,275.8 L440.4,276.9 L440.8,276.7 L440.9,276.8 L441.2,277.7 L441.8,278.2 L442.2,279.0 L442.6,278.7 L443.3,279.4 L443.7,278.9 L444.3,278.7 L444.6,279.3 L444.7,279.3 L445.1,277.5 L445.4,277.9 L445.7,277.8 L446.4,275.7 L447.6,274.1 L448.0,272.7 L448.4,272.5 L448.7,271.4 L449.8,269.4 L450.4,268.5 L451.1,266.2 L451.6,265.5 L452.9,262.4 L453.6,261.3 L453.9,260.5 L454.5,259.6 L458.7,251.0 L460.5,246.7 L462.2,242.2" fill="none" stroke="#d85090" stroke-width="0.95" stroke-linejoin="round" stroke-opacity="0.85"/>
<path d="M554.6,266.8 L556.0,275.6 L557.4,286.4 L557.5,286.8 L557.7,287.1 L558.1,288.9 L558.7,290.3 L559.1,289.0 L559.4,288.7 L559.6,287.4 L559.9,286.6 L560.4,284.1 L560.8,283.1 L561.2,280.3 L561.7,279.3 L562.4,276.6 L562.8,275.9 L563.3,273.3 L563.7,272.2 L563.9,271.8 L564.5,270.0 L565.5,268.1 L566.1,266.3 L566.2,266.1 L566.5,266.2 L566.6,266.1 L567.3,264.3 L567.8,263.8 L568.2,262.8 L569.0,261.6 L569.7,261.0 L570.6,259.5 L570.9,259.4 L571.3,258.9 L571.7,258.7 L573.0,257.0 L574.1,256.2 L574.6,255.5 L575.1,255.3 L577.3,253.6 L578.0,253.3 L578.3,252.9 L578.7,252.8 L582.6,250.7 L585.8,249.4 L591.3,247.7 L596.9,246.4 L603.1,245.4 L610.3,244.5 L618.5,243.8" fill="none" stroke="#d85090" stroke-width="0.95" stroke-linejoin="round" stroke-opacity="0.85"/>
<path d="M373.6,240.1 L382.1,241.2 L389.9,242.5 L396.8,243.8 L403.0,245.3 L405.9,246.1 L408.1,246.9 L409.9,247.3 L412.3,248.4 L413.7,248.7 L414.2,249.3 L414.6,249.0 L414.9,249.3 L415.4,249.5 L415.8,249.5 L416.3,249.7 L416.9,250.6 L417.2,250.4 L417.7,250.9 L418.1,250.9 L418.5,251.1 L419.0,251.0 L420.4,251.9 L420.7,251.7 L421.5,253.0 L421.9,252.2 L422.2,253.0 L422.8,253.6 L423.1,253.4 L423.7,253.8 L424.1,253.5 L424.3,253.5 L424.7,254.4 L425.1,254.7 L425.4,255.6 L425.6,255.6 L425.9,255.3 L426.0,255.4 L426.6,256.0 L427.0,257.0 L427.2,257.2 L427.4,257.3 L427.5,257.0 L427.9,257.6 L428.2,257.1 L428.4,256.9 L429.1,257.9 L429.5,257.6 L429.6,257.7 L430.1,258.7 L430.5,260.2 L431.1,260.4 L431.5,260.1 L432.1,262.0 L432.3,261.9 L432.6,261.2 L432.8,261.3 L433.1,262.7 L433.3,263.0 L433.7,265.1 L434.2,264.0 L435.0,266.0 L435.4,264.3 L435.7,265.8 L436.1,266.3 L436.4,267.7 L436.7,267.1 L436.9,267.4 L437.1,267.3 L437.4,268.3 L437.6,268.3 L437.8,268.0 L438.0,268.2 L438.3,270.0 L438.6,270.4 L439.0,274.1 L439.3,271.8 L439.5,271.6 L439.6,271.9 L440.4,275.4 L440.5,275.9 L440.6,276.0 L440.8,275.9 L440.9,276.0 L441.1,277.2 L441.3,277.4 L441.6,278.0 L441.7,277.9 L442.1,276.2 L442.6,282.3 L442.8,281.7 L443.2,283.2 L443.8,281.9 L444.3,284.1 L444.4,283.8 L444.7,282.4 L445.0,283.7 L445.2,283.7 L445.5,283.2 L445.7,283.5 L445.8,283.5 L445.9,283.6 L446.2,285.5 L446.6,284.6 L446.7,284.8 L446.8,284.8 L447.1,282.5 L447.4,282.9 L447.5,282.7 L447.9,280.5 L448.6,278.7 L448.9,277.4 L448.9,277.2 L449.2,277.5 L449.3,277.2 L450.3,272.6 L450.6,273.0 L450.7,272.8 L452.0,267.6 L452.9,266.6 L453.4,264.7 L453.8,264.2 L454.5,261.2 L455.0,260.5 L456.1,257.8 L456.5,257.6 L456.9,256.1 L457.2,255.6 L457.6,254.2 L458.1,253.3 L459.7,249.4 L462.2,242.4" fill="none" stroke="#4448a0" stroke-width="0.95" stroke-linejoin="round" stroke-opacity="0.9"/>
<path d="M554.6,266.7 L555.3,270.5 L556.2,274.5 L556.5,276.5 L556.6,276.6 L556.8,276.7 L556.8,277.0 L557.3,282.7 L557.4,283.2 L557.9,284.2 L558.0,284.8 L558.3,289.9 L558.9,293.8 L559.7,307.2 L560.8,307.2 L561.1,301.7 L561.6,298.6 L562.1,290.3 L562.4,288.1 L562.6,284.8 L562.8,283.9 L563.0,283.9 L563.1,283.6 L563.4,281.1 L563.9,277.7 L564.3,277.3 L565.1,272.1 L565.3,271.9 L566.3,268.8 L566.6,268.8 L566.6,268.6 L567.1,265.8 L567.5,266.1 L567.5,266.1 L568.1,264.6 L568.4,264.6 L568.4,264.5 L569.2,261.5 L569.5,261.4 L570.0,260.8 L570.3,260.0 L571.0,259.5 L571.4,258.2 L571.6,258.2 L571.9,257.8 L572.2,258.0 L572.4,258.0 L573.3,255.7 L573.7,255.6 L574.1,254.8 L574.4,255.0 L574.8,254.7 L575.6,253.1 L575.8,253.1 L576.3,253.5 L576.4,253.5 L577.7,251.8 L578.2,251.9 L579.0,250.9 L579.5,250.8 L579.8,250.3 L580.7,250.1 L581.3,249.4 L581.7,249.4 L582.9,248.6 L583.5,248.5 L584.1,248.0 L584.8,247.8 L586.4,247.1 L590.2,245.7 L595.8,244.2 L602.3,242.9 L609.8,241.8 L618.5,241.0" fill="none" stroke="#4448a0" stroke-width="0.95" stroke-linejoin="round" stroke-opacity="0.9"/>
<path d="M373.6,240.3 L382.2,241.5 L390.0,242.8 L396.9,244.1 L403.2,245.7 L409.2,247.4 L411.1,248.1 L411.7,248.5 L412.2,248.4 L412.7,248.6 L413.1,249.1 L413.6,249.0 L413.9,249.2 L414.6,249.3 L415.7,250.1 L416.3,250.1 L416.7,250.3 L417.0,250.3 L418.4,251.5 L418.8,251.2 L419.3,251.9 L419.6,251.7 L419.9,251.8 L420.2,251.5 L420.6,252.4 L420.9,252.4 L421.2,252.8 L421.9,253.0 L422.6,253.6 L423.0,253.4 L423.2,253.5 L423.6,254.4 L423.9,254.1 L424.4,254.7 L424.9,254.1 L425.4,254.8 L425.7,255.5 L426.2,255.8 L426.6,256.7 L426.9,256.2 L427.0,256.1 L427.6,257.4 L427.9,257.3 L428.2,256.6 L428.4,256.7 L429.0,258.7 L429.6,258.0 L429.7,258.1 L430.2,259.9 L430.9,261.2 L431.1,261.3 L431.3,261.0 L431.7,261.6 L432.3,261.9 L432.7,262.8 L433.0,262.3 L433.5,263.5 L433.7,263.5 L434.1,263.1 L434.7,266.2 L435.2,267.0 L435.5,266.7 L435.7,266.8 L436.0,268.1 L436.5,269.0 L436.8,269.0 L436.8,269.1 L437.1,270.0 L437.6,268.7 L437.9,269.6 L438.3,271.7 L438.8,272.3 L439.2,272.5 L439.5,272.8 L440.5,276.3 L440.6,276.4 L440.9,276.1 L441.3,278.1 L441.6,278.5 L441.9,276.3 L442.0,276.3 L442.4,279.3 L442.6,279.7 L442.7,279.6 L442.8,279.7 L442.9,280.0 L443.2,282.8 L443.3,282.9 L443.5,282.6 L443.8,283.1 L444.0,282.9 L444.1,283.0 L444.4,285.4 L444.9,282.4 L445.0,282.6 L445.3,283.9 L445.7,280.9 L446.0,282.8 L446.1,283.0 L446.6,283.0 L446.8,282.5 L447.1,280.7 L447.5,280.3 L447.8,280.6 L448.4,277.2 L448.7,278.6 L448.8,278.6 L448.9,278.4 L449.9,273.6 L450.1,273.3 L450.3,273.6 L450.5,273.3 L451.1,269.7 L451.3,269.2 L451.6,269.3 L451.7,269.1 L452.1,266.7 L452.3,266.6 L452.5,267.2 L452.6,267.2 L452.7,267.0 L453.1,264.7 L453.6,264.1 L453.9,262.9 L454.2,262.7 L454.9,260.1 L455.3,259.8 L455.8,258.8 L456.7,256.7 L457.3,254.8 L457.7,254.2 L458.6,252.1 L460.5,247.1 L462.2,242.4" fill="none" stroke="#4840a0" stroke-width="0.95" stroke-linejoin="round" stroke-opacity="0.9"/>
<path d="M554.6,266.9 L555.8,273.1 L556.3,275.0 L556.9,279.8 L557.2,281.5 L557.6,284.8 L557.7,285.1 L557.9,284.7 L558.1,285.4 L558.7,293.9 L559.0,295.6 L559.7,306.6 L559.8,307.1 L560.2,307.2 L560.7,303.8 L561.2,293.7 L561.3,293.0 L561.6,293.7 L561.8,291.7 L562.3,283.1 L562.4,283.0 L562.6,283.3 L562.9,281.4 L563.3,282.6 L563.8,277.8 L563.9,277.4 L564.1,277.6 L564.2,277.6 L564.6,274.3 L565.0,272.3 L565.1,272.1 L565.3,272.4 L565.4,272.2 L565.8,269.2 L567.7,264.6 L568.0,263.3 L568.1,263.2 L568.2,263.3 L568.4,264.0 L568.5,263.9 L569.2,261.6 L569.7,261.1 L570.6,259.9 L571.1,258.4 L571.8,258.0 L572.1,258.3 L572.8,257.1 L573.7,255.7 L574.1,254.9 L574.4,255.3 L574.7,254.9 L575.1,254.6 L575.6,253.7 L576.1,253.5 L576.8,253.0 L577.4,252.1 L577.7,252.2 L578.2,251.5 L579.5,250.9 L580.8,249.7 L581.7,249.6 L582.6,248.9 L584.0,248.2 L584.6,248.1 L585.8,247.5 L590.8,245.7 L596.4,244.2 L602.7,243.0 L610.1,242.0 L618.5,241.2" fill="none" stroke="#4840a0" stroke-width="0.95" stroke-linejoin="round" stroke-opacity="0.9"/>
<path d="M373.6,240.6 L381.6,241.7 L388.8,242.8 L395.4,244.1 L401.4,245.5 L406.6,246.9 L408.5,247.5 L409.2,247.8 L410.3,248.0 L410.8,248.4 L411.5,248.5 L412.1,248.9 L412.6,248.8 L413.0,249.1 L413.4,249.2 L414.4,249.7 L414.8,249.6 L415.1,250.0 L415.6,250.2 L415.9,250.4 L416.3,250.5 L416.9,250.7 L417.5,251.2 L417.9,251.8 L418.5,251.4 L418.9,251.7 L419.4,251.9 L419.8,251.8 L420.2,252.6 L420.8,253.0 L421.2,252.5 L421.6,253.3 L421.8,253.3 L422.1,253.6 L422.2,253.5 L422.5,253.0 L422.6,253.0 L423.0,254.5 L423.3,254.5 L423.7,254.9 L424.0,254.7 L424.4,255.3 L424.8,254.9 L425.3,256.2 L425.3,256.3 L425.7,255.9 L425.9,255.9 L426.4,257.3 L426.7,256.9 L427.2,256.6 L428.0,258.8 L428.3,258.4 L428.5,258.6 L428.9,258.4 L429.3,259.3 L429.5,259.4 L429.7,259.3 L430.0,258.9 L430.2,259.5 L430.5,259.7 L430.8,261.0 L431.1,260.6 L431.5,260.9 L431.9,260.1 L432.4,263.1 L432.8,263.6 L433.2,262.7 L433.3,262.5 L433.3,262.7 L433.7,265.5 L434.5,263.2 L434.9,266.3 L435.3,265.6 L435.8,267.2 L436.0,266.8 L436.3,267.1 L436.6,266.6 L437.1,269.1 L437.3,269.5 L437.4,269.5 L437.5,269.7 L437.7,271.1 L437.8,271.2 L438.1,270.9 L438.2,271.0 L438.6,272.4 L438.9,273.0 L439.1,272.8 L439.4,272.2 L439.5,272.3 L439.8,273.9 L440.1,272.9 L440.5,277.1 L440.6,277.3 L440.9,276.4 L441.1,276.2 L441.5,279.9 L441.8,279.4 L441.8,279.5 L442.2,281.0 L442.2,281.1 L442.4,280.9 L442.6,281.8 L442.7,281.8 L443.1,281.2 L443.5,283.7 L444.2,282.5 L444.4,282.4 L444.9,285.6 L445.3,282.4 L445.5,282.4 L445.8,283.5 L446.0,283.7 L446.7,281.9 L447.0,280.0 L447.1,280.0 L447.1,280.2 L447.5,281.3 L447.9,277.1 L448.0,277.0 L448.4,278.4 L448.5,278.4 L448.9,275.9 L449.2,276.5 L450.1,272.2 L450.2,271.9 L450.5,272.1 L450.6,272.0 L450.9,270.1 L451.2,271.3 L451.5,269.5 L451.8,268.6 L452.2,266.3 L452.5,266.3 L452.8,265.3 L453.3,264.6 L453.8,263.1 L454.1,262.8 L454.3,262.2 L454.7,260.4 L455.1,259.9 L455.4,258.6 L456.0,257.5 L456.4,257.1 L457.1,254.9 L457.5,254.4 L458.8,251.5 L460.6,246.9 L462.2,242.4" fill="none" stroke="#5530a0" stroke-width="0.95" stroke-linejoin="round" stroke-opacity="0.9"/>
<path d="M554.6,267.0 L555.9,274.4 L556.3,276.1 L556.9,280.0 L557.2,280.5 L557.6,284.2 L557.9,285.0 L558.6,293.9 L559.2,297.2 L559.5,298.2 L560.0,302.4 L560.8,297.3 L562.1,285.5 L562.7,283.0 L563.4,281.0 L563.9,277.9 L564.0,277.4 L564.3,277.2 L564.6,274.7 L565.2,272.2 L565.6,269.6 L565.7,269.2 L566.2,269.2 L566.4,268.9 L567.0,266.0 L567.0,265.8 L567.3,265.7 L567.6,264.6 L567.9,265.0 L568.0,264.9 L568.8,261.4 L569.2,261.7 L570.1,260.3 L570.8,259.9 L571.4,258.7 L571.8,258.4 L572.1,257.3 L572.4,257.6 L572.5,257.6 L572.8,256.9 L573.3,256.6 L573.9,255.2 L574.1,255.2 L574.5,255.3 L574.9,254.4 L575.5,253.8 L576.1,253.6 L576.5,252.8 L576.8,252.7 L577.3,252.2 L578.5,251.7 L578.8,251.3 L579.9,250.9 L581.7,249.5 L582.1,249.5 L584.7,248.0 L590.5,246.0 L596.1,244.5 L602.6,243.2 L610.0,242.2 L618.5,241.5" fill="none" stroke="#5530a0" stroke-width="0.95" stroke-linejoin="round" stroke-opacity="0.9"/>
<path d="M373.6,240.9 L381.6,242.0 L388.7,243.1 L395.3,244.4 L401.2,245.7 L407.8,247.5 L408.2,247.8 L408.8,247.8 L409.5,248.2 L410.0,248.2 L410.6,248.6 L411.1,248.6 L412.0,249.1 L412.3,249.0 L412.8,249.5 L413.3,249.6 L413.6,249.8 L413.8,249.8 L414.1,250.2 L414.5,250.1 L415.0,250.4 L415.5,250.3 L415.8,250.7 L416.2,250.6 L416.5,250.9 L416.9,250.7 L417.4,251.4 L417.9,251.3 L418.3,251.9 L418.6,251.6 L419.2,252.2 L419.5,252.3 L419.9,252.2 L420.4,253.1 L420.8,253.2 L421.4,252.9 L421.8,253.1 L422.9,254.3 L423.3,254.2 L424.0,255.2 L424.5,255.6 L424.8,256.2 L425.3,256.0 L425.9,257.1 L426.3,256.8 L426.7,257.2 L427.0,256.8 L427.2,256.8 L427.9,258.1 L428.1,258.2 L428.4,257.9 L428.8,258.5 L429.3,258.6 L429.6,259.3 L429.9,259.6 L430.4,261.3 L431.0,260.6 L431.2,261.1 L431.5,261.3 L431.8,262.8 L432.2,263.9 L432.4,263.8 L432.8,262.6 L432.9,262.5 L433.0,262.5 L433.4,264.5 L433.8,265.0 L434.2,265.1 L434.6,266.6 L434.9,265.6 L435.1,265.5 L435.6,268.7 L436.0,268.9 L436.4,267.2 L436.8,269.7 L437.0,269.7 L437.4,269.1 L437.9,271.1 L438.2,270.9 L438.5,271.7 L438.7,271.2 L439.2,273.0 L439.3,273.0 L439.6,272.9 L440.4,278.6 L440.7,278.2 L441.0,278.0 L441.3,276.5 L441.3,276.1 L441.4,276.3 L441.8,279.2 L442.0,279.5 L442.3,280.7 L442.6,280.7 L442.8,282.3 L442.9,282.5 L443.0,282.1 L443.3,280.1 L443.8,283.2 L444.0,282.0 L444.3,282.7 L444.6,280.9 L444.9,280.4 L445.3,282.9 L445.8,279.0 L446.1,280.0 L446.3,278.5 L447.1,281.3 L447.5,278.6 L447.9,277.1 L448.0,276.9 L448.4,278.2 L448.6,277.7 L449.6,272.8 L449.8,272.2 L450.1,272.8 L450.2,272.7 L451.0,268.8 L451.1,268.6 L451.4,268.9 L451.8,267.8 L452.4,265.0 L452.7,265.6 L452.8,265.5 L453.1,263.4 L453.4,263.1 L453.9,261.8 L454.2,261.6 L454.4,261.4 L455.0,259.6 L455.2,259.7 L455.3,259.6 L455.6,258.6 L456.2,256.9 L456.7,256.5 L460.0,248.5 L462.2,242.4" fill="none" stroke="#6414a8" stroke-width="0.95" stroke-linejoin="round" stroke-opacity="0.9"/>
<path d="M554.6,265.7 L555.0,267.1 L556.0,272.0 L557.1,274.9 L557.4,273.8 L557.5,274.0 L558.0,276.7 L558.1,276.8 L558.5,275.1 L558.8,276.5 L559.0,276.4 L559.1,276.5 L559.4,278.8 L559.9,276.6 L559.9,276.6 L560.1,277.1 L560.3,277.3 L560.7,278.4 L561.2,274.5 L561.7,278.1 L562.1,275.0 L562.6,272.0 L562.7,271.9 L563.0,272.3 L563.4,270.7 L563.6,271.2 L563.7,271.1 L563.9,269.8 L564.4,268.6 L564.7,268.5 L564.9,267.9 L565.2,266.5 L565.2,266.4 L565.5,267.6 L565.6,267.6 L566.2,264.1 L566.3,264.0 L566.6,264.0 L566.8,263.6 L567.2,263.2 L567.9,261.2 L568.3,261.2 L568.5,260.8 L568.8,261.2 L569.6,259.5 L570.1,259.5 L570.6,258.6 L570.7,258.6 L571.0,258.9 L571.4,257.9 L571.7,257.7 L571.9,257.2 L573.5,255.5 L574.2,254.4 L574.6,254.5 L574.9,253.8 L575.8,253.4 L576.0,253.0 L576.4,252.8 L576.8,252.3 L577.2,252.6 L577.3,252.5 L577.7,251.9 L578.0,251.8 L578.3,251.3 L578.6,251.4 L579.0,251.0 L579.4,250.8 L579.8,250.7 L581.6,249.4 L583.0,249.0 L584.1,248.3 L588.8,246.6 L593.3,245.3 L598.5,244.1 L604.4,243.1 L611.0,242.3 L618.5,241.6" fill="none" stroke="#6414a8" stroke-width="0.95" stroke-linejoin="round" stroke-opacity="0.9"/>
<path d="M373.6,241.1 L382.3,242.3 L390.0,243.6 L397.0,245.0 L403.3,246.6 L406.5,247.4 L407.5,247.9 L408.3,248.0 L408.8,248.3 L409.9,248.5 L410.7,248.9 L411.2,249.0 L411.6,249.4 L412.1,249.4 L412.8,249.9 L413.4,249.9 L413.7,250.1 L414.1,249.9 L414.6,250.5 L415.2,250.8 L416.0,251.0 L416.4,251.4 L417.2,251.3 L417.6,252.0 L418.0,252.2 L418.5,252.2 L419.3,253.2 L419.8,252.8 L420.2,253.4 L420.4,253.3 L420.8,253.5 L421.2,254.1 L421.5,253.8 L421.7,254.0 L421.9,254.0 L422.2,254.4 L422.6,254.5 L422.9,254.3 L423.3,255.2 L423.8,254.8 L424.2,255.1 L424.7,255.9 L424.9,256.1 L425.3,256.0 L425.6,256.1 L425.9,256.7 L426.2,256.8 L426.6,257.6 L427.2,258.4 L427.4,258.2 L427.6,257.6 L427.9,257.5 L428.2,258.3 L428.4,258.1 L428.9,258.7 L429.3,260.2 L429.5,260.2 L429.8,259.8 L430.0,259.8 L430.6,260.4 L430.9,261.5 L431.1,261.4 L431.4,261.4 L431.6,260.7 L432.1,263.5 L432.4,263.5 L432.8,264.4 L433.3,264.0 L433.6,264.6 L433.8,264.5 L434.2,265.5 L434.4,264.8 L434.7,265.8 L435.1,265.3 L435.5,267.2 L435.9,265.4 L436.0,265.3 L436.5,267.9 L436.9,269.2 L437.0,269.3 L437.2,269.3 L437.4,268.2 L437.5,268.1 L437.6,268.3 L438.0,271.8 L438.1,272.0 L438.3,271.4 L438.6,272.9 L438.9,272.4 L439.1,273.2 L439.5,272.6 L439.9,274.9 L440.1,275.2 L440.4,276.0 L440.7,276.3 L440.9,277.1 L441.2,276.7 L441.6,280.1 L441.9,277.8 L442.0,277.5 L442.1,277.5 L442.3,278.3 L442.6,278.5 L443.1,280.7 L443.2,281.0 L443.5,280.5 L443.8,280.3 L444.0,279.8 L444.4,281.9 L444.9,282.9 L445.3,281.2 L445.5,281.7 L445.8,281.5 L446.2,281.0 L446.7,277.8 L446.8,278.0 L447.1,279.8 L447.5,277.8 L447.9,277.1 L448.0,277.0 L448.0,277.2 L448.3,278.2 L448.6,275.7 L448.9,275.2 L449.1,273.9 L449.3,273.9 L449.4,273.7 L450.2,270.6 L450.7,270.2 L451.1,269.2 L451.6,267.0 L452.0,266.5 L452.6,264.2 L453.3,263.4 L455.3,258.8 L455.7,257.5 L456.1,256.7 L456.6,256.2 L458.2,252.6 L460.4,247.4 L462.2,242.3" fill="none" stroke="#7a14a8" stroke-width="0.95" stroke-linejoin="round" stroke-opacity="0.9"/>
<path d="M554.6,266.2 L555.1,268.5 L555.6,270.1 L556.2,273.6 L556.8,275.8 L556.8,276.0 L557.0,276.0 L557.1,276.1 L557.4,277.7 L557.7,278.3 L558.1,281.1 L558.2,281.3 L558.4,281.3 L558.7,280.2 L559.0,280.8 L559.6,279.7 L560.0,282.0 L560.1,282.1 L560.3,281.9 L560.3,282.0 L560.6,283.0 L561.2,280.4 L561.4,278.1 L561.5,277.9 L561.7,278.7 L561.9,278.6 L562.4,276.4 L562.7,275.6 L563.3,270.5 L563.4,270.4 L563.7,271.4 L564.2,269.3 L564.8,270.0 L564.9,269.9 L565.4,266.2 L565.5,266.2 L565.7,267.7 L565.8,267.9 L565.9,267.7 L566.2,265.8 L566.8,263.7 L567.1,263.2 L567.4,262.0 L567.5,262.0 L567.7,262.7 L567.9,262.8 L568.2,261.9 L568.3,261.8 L568.5,261.9 L569.0,260.9 L569.3,260.8 L569.7,260.1 L570.0,260.2 L570.5,258.5 L570.7,258.5 L571.1,258.1 L571.9,256.7 L572.2,256.7 L572.7,256.3 L573.2,256.2 L574.1,255.0 L574.4,254.8 L574.8,254.0 L575.2,253.9 L575.6,253.2 L576.2,253.5 L576.4,253.2 L577.3,252.6 L577.7,252.0 L578.0,252.1 L578.6,251.5 L579.0,251.5 L579.4,251.0 L579.9,250.9 L580.3,250.5 L580.9,250.3 L581.7,249.7 L582.4,249.4 L582.8,249.4 L584.3,248.5 L588.4,246.9 L592.6,245.7 L597.9,244.5 L604.0,243.4 L610.7,242.6 L618.5,241.9" fill="none" stroke="#7a14a8" stroke-width="0.95" stroke-linejoin="round" stroke-opacity="0.9"/>
<path d="M373.6,241.3 L381.9,242.4 L389.4,243.6 L396.2,244.9 L402.2,246.4 L408.4,248.1 L409.2,248.5 L409.7,248.5 L411.1,249.1 L412.2,249.7 L412.4,249.6 L413.1,249.9 L413.7,249.9 L414.1,250.3 L414.5,250.3 L414.8,250.6 L415.0,250.5 L415.4,251.0 L415.8,251.2 L416.3,251.1 L416.7,250.7 L417.2,252.0 L417.7,251.8 L418.1,252.0 L418.5,251.8 L419.4,253.0 L419.7,253.0 L419.9,253.3 L420.3,253.1 L421.0,253.8 L422.1,254.3 L422.5,254.1 L423.0,254.9 L423.4,254.6 L423.8,255.4 L424.0,255.2 L424.4,255.9 L424.9,255.9 L425.5,257.1 L425.8,256.7 L426.5,257.5 L426.9,257.6 L427.4,258.9 L427.7,258.1 L428.0,258.5 L428.4,257.9 L429.0,260.2 L429.3,259.9 L429.6,260.2 L429.9,260.1 L430.3,261.0 L430.6,260.7 L431.1,262.1 L431.5,261.5 L431.7,262.2 L432.0,262.4 L432.5,264.7 L433.0,263.7 L433.3,264.5 L433.7,264.0 L433.8,263.9 L434.2,265.2 L434.6,265.7 L435.0,266.9 L435.3,267.0 L435.6,267.4 L436.0,268.9 L436.7,268.6 L437.2,270.8 L437.7,268.5 L438.8,272.8 L439.0,273.0 L439.2,272.7 L439.6,276.1 L439.7,276.3 L439.8,276.2 L440.2,274.3 L440.5,274.9 L440.8,276.5 L440.9,276.6 L441.1,275.2 L441.5,277.6 L441.6,277.9 L441.8,277.9 L442.0,278.1 L442.6,280.5 L443.0,279.7 L443.4,281.3 L443.6,281.0 L443.9,281.2 L444.7,284.5 L445.1,279.8 L445.2,279.7 L445.5,282.2 L445.6,282.3 L445.8,281.6 L446.1,282.8 L446.6,280.5 L446.7,280.2 L447.1,280.3 L447.5,278.2 L448.0,279.7 L448.4,274.6 L448.5,274.6 L448.7,275.1 L448.8,275.1 L448.9,274.9 L449.2,273.1 L449.4,272.8 L449.7,271.9 L449.9,271.9 L450.0,271.7 L450.3,269.4 L450.4,269.2 L450.5,269.4 L450.7,270.5 L451.1,268.9 L451.6,267.0 L451.8,266.8 L452.1,267.2 L452.6,264.9 L452.9,264.9 L453.3,263.5 L453.4,263.2 L453.8,262.9 L454.5,260.6 L454.6,260.5 L454.9,260.9 L456.3,256.5 L457.4,254.5 L459.4,250.0 L462.2,242.4" fill="none" stroke="#6414a8" stroke-width="0.95" stroke-linejoin="round" stroke-opacity="0.9"/>
<path d="M554.6,266.8 L555.4,270.9 L556.8,278.7 L557.1,281.8 L557.3,283.0 L557.7,287.7 L557.9,288.2 L558.1,287.0 L558.2,287.1 L558.9,295.4 L559.2,296.7 L559.4,296.4 L559.5,296.4 L560.2,298.2 L560.3,297.4 L560.9,289.3 L561.2,287.7 L561.7,285.4 L562.1,279.3 L562.2,279.2 L562.6,280.7 L563.0,280.0 L563.4,275.9 L563.4,275.7 L563.7,276.1 L563.8,276.1 L564.1,273.8 L564.2,273.4 L564.4,273.2 L564.8,270.8 L564.9,270.7 L565.2,270.8 L565.7,270.0 L566.1,268.1 L566.4,269.1 L567.0,264.4 L567.1,264.3 L567.3,264.4 L567.8,265.0 L568.2,263.0 L568.4,263.1 L568.6,262.7 L568.8,262.9 L569.2,262.5 L569.4,262.6 L569.7,260.7 L569.9,260.4 L570.1,260.4 L570.4,260.8 L570.5,260.7 L571.0,258.0 L571.5,257.7 L571.9,258.2 L572.4,258.2 L572.8,257.1 L572.8,257.0 L573.1,257.1 L573.5,256.0 L573.8,255.8 L574.3,254.8 L574.6,255.0 L574.9,254.6 L575.1,254.5 L575.5,253.8 L575.9,254.2 L576.7,252.8 L577.1,253.3 L577.3,253.2 L578.1,252.1 L578.6,251.6 L579.3,251.5 L579.9,250.9 L580.6,250.6 L581.1,250.1 L581.7,250.2 L582.2,249.8 L583.9,249.1 L584.2,248.8 L587.5,247.5 L591.4,246.2 L596.9,244.9 L603.1,243.7 L610.3,242.8 L618.5,242.0" fill="none" stroke="#6414a8" stroke-width="0.95" stroke-linejoin="round" stroke-opacity="0.9"/>
<path d="M373.6,241.5 L381.6,242.6 L388.7,243.8 L395.3,245.0 L401.2,246.4 L405.9,247.7 L411.9,249.7 L414.4,250.7 L416.4,251.8 L417.3,252.0 L419.0,253.0 L420.4,253.5 L422.5,255.0 L423.5,255.5 L423.9,256.0 L424.9,256.6 L425.3,257.0 L425.6,257.0 L426.0,257.6 L426.5,257.6 L427.1,258.4 L427.6,258.6 L428.5,259.7 L429.4,260.1 L429.8,260.8 L430.3,261.1 L430.8,262.0 L431.5,262.2 L431.9,262.8 L432.5,263.4 L432.9,264.2 L434.2,265.7 L434.6,266.5 L435.2,266.8 L435.6,268.0 L436.0,268.4 L436.6,269.9 L436.7,270.0 L437.0,269.4 L437.6,270.6 L438.0,271.0 L438.3,272.3 L438.4,272.4 L438.6,272.3 L438.9,272.7 L439.5,274.7 L439.6,274.8 L439.9,274.5 L440.2,275.3 L440.5,275.5 L441.1,277.2 L441.7,278.2 L442.1,278.3 L442.4,279.5 L442.6,279.5 L442.8,279.7 L443.1,280.7 L443.2,280.8 L443.5,280.2 L443.7,280.2 L444.0,280.0 L444.3,280.9 L444.9,281.1 L445.2,280.6 L445.4,280.9 L445.5,280.8 L445.8,280.2 L446.0,280.5 L446.1,280.4 L446.7,279.0 L447.2,276.9 L447.4,276.8 L447.6,277.0 L447.7,277.0 L448.5,274.1 L449.1,273.4 L449.5,271.8 L450.0,271.1 L450.8,268.6 L452.9,264.2 L454.4,260.4 L456.0,257.2 L458.8,251.2 L460.5,246.9 L462.2,242.3" fill="none" stroke="#9020a0" stroke-width="0.95" stroke-linejoin="round" stroke-opacity="0.9"/>
<path d="M554.6,266.3 L556.8,277.4 L557.5,279.5 L558.1,283.1 L558.8,285.0 L559.1,285.0 L559.4,285.4 L559.7,284.9 L559.9,284.8 L560.1,284.6 L560.5,283.2 L560.8,282.7 L562.2,277.5 L562.8,275.9 L563.1,274.4 L563.4,273.9 L564.5,270.1 L564.6,270.0 L564.8,270.1 L565.0,269.9 L565.8,267.3 L566.5,266.2 L567.0,264.9 L567.4,264.7 L567.8,263.4 L568.1,263.1 L568.5,262.2 L568.8,262.1 L569.8,260.1 L570.1,259.8 L571.4,258.0 L572.4,256.8 L572.9,256.7 L573.4,255.9 L573.9,255.6 L574.6,254.7 L575.1,254.5 L576.2,253.4 L576.6,253.4 L577.4,252.8 L577.9,252.2 L578.5,251.8 L578.9,251.7 L581.7,250.0 L584.2,248.8 L588.2,247.3 L592.4,246.1 L597.8,244.8 L603.9,243.8 L610.7,242.9 L618.5,242.3" fill="none" stroke="#9020a0" stroke-width="0.95" stroke-linejoin="round" stroke-opacity="0.9"/>
<path d="M373.6,241.9 L381.3,243.0 L388.3,244.1 L394.8,245.3 L400.6,246.7 L407.1,248.5 L412.5,250.3 L416.6,252.2 L417.1,252.3 L417.7,252.8 L418.4,253.0 L418.9,253.4 L419.3,253.4 L419.6,253.8 L420.4,254.0 L421.2,254.7 L421.6,254.7 L422.2,255.0 L422.9,255.7 L423.3,255.8 L425.5,257.3 L425.8,257.7 L426.6,258.2 L427.9,259.5 L428.4,259.5 L428.8,260.1 L429.2,260.7 L429.5,260.9 L429.8,261.4 L430.3,261.5 L431.0,262.1 L431.8,263.3 L432.4,263.6 L432.8,264.1 L433.2,265.2 L433.8,265.5 L434.2,266.1 L434.6,266.4 L435.1,267.2 L435.5,267.6 L436.1,269.1 L436.3,269.4 L436.8,269.7 L437.2,270.7 L437.9,271.9 L438.2,272.8 L439.1,273.9 L439.4,274.8 L440.2,275.4 L440.6,276.2 L440.9,276.5 L441.5,278.0 L442.2,278.6 L442.7,280.3 L443.1,279.9 L443.5,280.1 L443.8,279.5 L444.2,280.1 L444.6,280.0 L444.9,280.4 L445.3,279.2 L445.5,279.4 L445.7,279.3 L446.1,278.4 L446.4,278.0 L446.8,276.4 L447.1,276.7 L447.2,276.7 L447.6,275.4 L448.4,273.7 L448.7,273.0 L449.0,272.5 L449.9,270.1 L451.1,268.2 L452.2,264.8 L453.2,263.0 L454.8,259.2 L455.5,258.3 L456.0,256.9 L457.9,253.1 L460.2,247.7 L462.2,242.3" fill="none" stroke="#a81e6e" stroke-width="0.95" stroke-linejoin="round" stroke-opacity="0.9"/>
<path d="M554.6,266.6 L556.3,277.2 L558.1,290.4 L558.7,292.4 L559.0,292.7 L559.5,293.5 L559.8,292.9 L561.2,286.2 L561.6,283.4 L562.6,278.3 L562.9,277.7 L563.6,273.9 L564.0,273.3 L564.4,271.7 L567.1,265.0 L567.6,264.4 L568.3,263.4 L568.7,262.4 L569.3,261.4 L569.7,261.1 L570.5,259.6 L570.8,259.4 L571.8,258.0 L572.6,257.3 L574.1,255.6 L575.0,254.8 L575.4,254.7 L576.1,253.9 L577.1,253.3 L577.5,252.8 L581.2,250.6 L583.9,249.3 L586.2,248.4 L590.6,246.9 L596.3,245.5 L602.7,244.3 L610.1,243.4 L618.5,242.6" fill="none" stroke="#a81e6e" stroke-width="0.95" stroke-linejoin="round" stroke-opacity="0.9"/>
<path d="M373.6,242.4 L381.3,243.5 L388.3,244.6 L394.7,245.8 L400.5,247.2 L406.0,248.7 L411.4,250.5 L415.3,252.1 L415.9,252.5 L416.4,252.5 L417.2,253.0 L419.1,253.9 L419.5,254.2 L420.0,254.4 L420.8,254.9 L421.2,255.3 L421.6,255.4 L422.5,255.9 L422.8,256.3 L423.6,256.8 L424.0,256.9 L425.2,257.9 L425.7,258.2 L426.1,258.2 L426.7,259.1 L427.0,259.0 L427.5,259.7 L427.8,259.7 L428.1,260.0 L428.4,260.0 L429.5,261.7 L429.8,261.5 L430.2,262.3 L430.5,262.3 L430.9,262.9 L431.5,263.2 L431.9,264.1 L432.9,264.9 L433.5,266.1 L434.0,266.6 L434.3,266.6 L434.4,266.7 L434.7,267.7 L435.2,268.1 L436.4,269.9 L436.6,270.1 L437.1,271.1 L437.6,271.5 L438.0,272.6 L438.8,273.2 L439.2,274.5 L439.5,274.8 L440.0,275.6 L440.3,275.8 L440.7,276.4 L441.1,277.9 L441.3,278.0 L441.5,277.9 L441.8,278.5 L442.2,278.7 L442.5,279.1 L442.8,278.8 L443.1,278.7 L443.5,280.0 L443.7,280.2 L444.1,279.4 L444.5,279.7 L444.9,279.1 L445.0,279.2 L445.3,278.5 L445.6,278.3 L445.9,277.3 L446.4,277.6 L447.2,276.4 L447.6,275.0 L448.2,274.1 L448.7,272.4 L449.0,272.2 L449.4,271.3 L449.8,270.7 L450.2,269.3 L450.8,268.5 L451.6,265.9 L452.4,264.7 L452.8,263.6 L453.3,262.9 L453.8,261.7 L454.3,260.7 L454.7,259.5 L458.5,251.8 L460.5,247.1 L462.2,242.3" fill="none" stroke="#c41a48" stroke-width="0.95" stroke-linejoin="round" stroke-opacity="1"/>
<path d="M554.6,266.8 L555.9,274.0 L558.2,290.1 L558.6,291.7 L559.3,292.0 L559.9,291.0 L560.3,289.2 L561.1,284.4 L562.1,280.2 L562.5,277.2 L562.6,277.0 L562.8,277.1 L562.9,277.0 L563.2,275.2 L563.9,273.7 L564.3,271.7 L565.0,270.1 L565.4,268.6 L566.0,267.4 L566.4,267.0 L566.6,266.2 L567.0,265.8 L568.3,263.1 L568.8,262.5 L569.2,261.5 L569.7,261.0 L570.2,260.0 L571.1,259.3 L571.7,258.4 L572.0,258.2 L572.6,257.4 L573.6,256.5 L574.0,255.9 L574.6,255.6 L575.8,254.4 L576.7,253.9 L577.2,253.3 L578.2,252.8 L579.0,252.1 L580.2,251.6 L581.3,250.9 L583.2,250.0 L587.6,248.3 L592.2,246.9 L597.6,245.7 L603.7,244.6 L610.7,243.8 L618.5,243.1" fill="none" stroke="#c41a48" stroke-width="0.95" stroke-linejoin="round" stroke-opacity="1"/>
<path d="M373.6,242.1 L381.2,243.1 L388.3,244.2 L394.6,245.5 L400.4,246.8 L405.6,248.2 L410.5,249.8 L414.8,251.5 L418.7,253.4 L422.0,255.2 L424.9,257.2 L427.6,259.3 L430.2,261.6 L432.6,264.3 L434.9,267.2 L436.9,270.1 L440.4,275.7 L441.7,277.4 L442.4,278.2 L443.1,278.7 L443.7,278.9 L444.3,278.9 L444.9,278.5 L445.7,277.8 L446.4,276.8 L447.3,275.2 L452.8,263.3 L459.1,250.2 L461.8,243.5 L467.0,227.5 L468.5,223.8 L469.9,220.6 L472.2,216.6 L475.1,212.5 L478.3,208.6 L481.4,205.5 L483.9,203.7 L486.3,202.4 L488.7,201.7 L491.4,201.4 L495.2,201.7 L505.0,203.4 L510.4,204.1 L516.0,204.3 L526.4,204.2 L528.8,204.4 L530.9,204.7 L533.1,205.5 L535.2,206.7 L537.1,208.2 L538.9,210.1 L540.5,212.4 L542.0,215.0 L543.3,218.0 L544.6,221.6 L545.8,225.6 L547.1,230.5 L550.1,243.9 L554.2,264.4 L557.9,286.3 L558.5,288.7 L558.8,289.5 L559.0,289.7 L559.3,289.6 L559.5,289.2 L560.0,287.8 L562.2,278.4 L563.6,273.4 L564.9,269.7 L566.3,266.4 L568.3,262.7 L570.5,259.5 L573.0,256.6 L575.8,254.1 L579.1,251.8 L582.9,249.8 L587.1,248.1 L592.0,246.6 L597.4,245.3 L603.6,244.3 L610.6,243.4 L618.5,242.7" fill="none" stroke="#dc2850" stroke-width="1.0" stroke-linejoin="round"/>
</g>
<rect x="373.55" y="193.55" width="244.95" height="111.15" fill="none" stroke="#363636" stroke-width="1.25"/>
<line x1="373.55" y1="304.70" x2="373.55" y2="302.25" stroke="#363636" stroke-width="0.9"/>
<line x1="373.55" y1="193.55" x2="373.55" y2="196.00" stroke="#363636" stroke-width="0.9"/>
<text x="373.55" y="318.70" font-size="10.4" text-anchor="middle" font-weight="normal" fill="#000" stroke="#000" stroke-width="0.12">16</text>
<line x1="422.54" y1="304.70" x2="422.54" y2="302.25" stroke="#363636" stroke-width="0.9"/>
<line x1="422.54" y1="193.55" x2="422.54" y2="196.00" stroke="#363636" stroke-width="0.9"/>
<text x="422.54" y="318.70" font-size="10.4" text-anchor="middle" font-weight="normal" fill="#000" stroke="#000" stroke-width="0.12">16.5</text>
<line x1="471.53" y1="304.70" x2="471.53" y2="302.25" stroke="#363636" stroke-width="0.9"/>
<line x1="471.53" y1="193.55" x2="471.53" y2="196.00" stroke="#363636" stroke-width="0.9"/>
<text x="471.53" y="318.70" font-size="10.4" text-anchor="middle" font-weight="normal" fill="#000" stroke="#000" stroke-width="0.12">17</text>
<line x1="520.52" y1="304.70" x2="520.52" y2="302.25" stroke="#363636" stroke-width="0.9"/>
<line x1="520.52" y1="193.55" x2="520.52" y2="196.00" stroke="#363636" stroke-width="0.9"/>
<text x="520.52" y="318.70" font-size="10.4" text-anchor="middle" font-weight="normal" fill="#000" stroke="#000" stroke-width="0.12">17.5</text>
<line x1="569.51" y1="304.70" x2="569.51" y2="302.25" stroke="#363636" stroke-width="0.9"/>
<line x1="569.51" y1="193.55" x2="569.51" y2="196.00" stroke="#363636" stroke-width="0.9"/>
<text x="569.51" y="318.70" font-size="10.4" text-anchor="middle" font-weight="normal" fill="#000" stroke="#000" stroke-width="0.12">18</text>
<line x1="618.50" y1="304.70" x2="618.50" y2="302.25" stroke="#363636" stroke-width="0.9"/>
<line x1="618.50" y1="193.55" x2="618.50" y2="196.00" stroke="#363636" stroke-width="0.9"/>
<text x="618.50" y="318.70" font-size="10.4" text-anchor="middle" font-weight="normal" fill="#000" stroke="#000" stroke-width="0.12">18.5</text>
<line x1="373.55" y1="193.55" x2="376.00" y2="193.55" stroke="#363636" stroke-width="0.9"/>
<line x1="618.50" y1="193.55" x2="616.05" y2="193.55" stroke="#363636" stroke-width="0.9"/>
<text x="368.35" y="197.85" font-size="10.4" text-anchor="end" font-weight="normal" fill="#000" stroke="#000" stroke-width="0.12">0</text>
<line x1="373.55" y1="218.25" x2="376.00" y2="218.25" stroke="#363636" stroke-width="0.9"/>
<line x1="618.50" y1="218.25" x2="616.05" y2="218.25" stroke="#363636" stroke-width="0.9"/>
<text x="368.35" y="222.55" font-size="10.4" text-anchor="end" font-weight="normal" fill="#000" stroke="#000" stroke-width="0.12">-10</text>
<line x1="373.55" y1="242.95" x2="376.00" y2="242.95" stroke="#363636" stroke-width="0.9"/>
<line x1="618.50" y1="242.95" x2="616.05" y2="242.95" stroke="#363636" stroke-width="0.9"/>
<text x="368.35" y="247.25" font-size="10.4" text-anchor="end" font-weight="normal" fill="#000" stroke="#000" stroke-width="0.12">-20</text>
<line x1="373.55" y1="267.65" x2="376.00" y2="267.65" stroke="#363636" stroke-width="0.9"/>
<line x1="618.50" y1="267.65" x2="616.05" y2="267.65" stroke="#363636" stroke-width="0.9"/>
<text x="368.35" y="271.95" font-size="10.4" text-anchor="end" font-weight="normal" fill="#000" stroke="#000" stroke-width="0.12">-30</text>
<line x1="373.55" y1="292.35" x2="376.00" y2="292.35" stroke="#363636" stroke-width="0.9"/>
<line x1="618.50" y1="292.35" x2="616.05" y2="292.35" stroke="#363636" stroke-width="0.9"/>
<text x="368.35" y="296.65" font-size="10.4" text-anchor="end" font-weight="normal" fill="#000" stroke="#000" stroke-width="0.12">-40</text>
<text x="498.05" y="336.40" font-size="10.4" text-anchor="middle" font-weight="normal" fill="#000" stroke="#000" stroke-width="0.12">Frequency (GHz)</text>
<text x="341.70" y="249.43" font-size="10.4" text-anchor="middle" font-weight="normal" fill="#000" stroke="#000" stroke-width="0.12" transform="rotate(-90 341.7 249.425)">S21 (dB)</text>
<rect x="637.10" y="193.10" width="13.80" height="18.55" fill="#dc2e1e" stroke="none" stroke-width="0"/>
<rect x="637.10" y="211.40" width="13.80" height="9.85" fill="#d02636" stroke="none" stroke-width="0"/>
<rect x="637.10" y="221.00" width="13.80" height="9.25" fill="#c41a48" stroke="none" stroke-width="0"/>
<rect x="637.10" y="230.00" width="13.80" height="9.75" fill="#a81e6e" stroke="none" stroke-width="0"/>
<rect x="637.10" y="239.50" width="13.80" height="9.75" fill="#9020a0" stroke="none" stroke-width="0"/>
<rect x="637.10" y="249.00" width="13.80" height="8.95" fill="#7a14a8" stroke="none" stroke-width="0"/>
<rect x="637.10" y="257.70" width="13.80" height="9.95" fill="#6414a8" stroke="none" stroke-width="0"/>
<rect x="637.10" y="267.40" width="13.80" height="9.45" fill="#5530a0" stroke="none" stroke-width="0"/>
<rect x="637.10" y="276.60" width="13.80" height="9.45" fill="#4840a0" stroke="none" stroke-width="0"/>
<rect x="637.10" y="285.80" width="13.80" height="19.20" fill="#4448a0" stroke="none" stroke-width="0"/>
<rect x="637.1" y="193.1" width="13.8" height="111.65" fill="none" stroke="#363636" stroke-width="0.8" stroke-opacity="0.8"/>
<text x="653.60" y="197.50" font-size="10.4" text-anchor="start" font-weight="normal" fill="#000" stroke="#000" stroke-width="0.12">20</text>
<text x="653.60" y="207.39" font-size="10.4" text-anchor="start" font-weight="normal" fill="#000" stroke="#000" stroke-width="0.12">15</text>
<text x="653.60" y="217.28" font-size="10.4" text-anchor="start" font-weight="normal" fill="#000" stroke="#000" stroke-width="0.12">10</text>
<text x="653.60" y="227.17" font-size="10.4" text-anchor="start" font-weight="normal" fill="#000" stroke="#000" stroke-width="0.12">5</text>
<text x="653.60" y="237.06" font-size="10.4" text-anchor="start" font-weight="normal" fill="#000" stroke="#000" stroke-width="0.12">0</text>
<text x="653.60" y="246.95" font-size="10.4" text-anchor="start" font-weight="normal" fill="#000" stroke="#000" stroke-width="0.12">-5</text>
<text x="653.60" y="256.85" font-size="10.4" text-anchor="start" font-weight="normal" fill="#000" stroke="#000" stroke-width="0.12">-10</text>
<text x="653.60" y="266.74" font-size="10.4" text-anchor="start" font-weight="normal" fill="#000" stroke="#000" stroke-width="0.12">-15</text>
<text x="653.60" y="276.63" font-size="10.4" text-anchor="start" font-weight="normal" fill="#000" stroke="#000" stroke-width="0.12">-20</text>
<text x="653.60" y="286.52" font-size="10.4" text-anchor="start" font-weight="normal" fill="#000" stroke="#000" stroke-width="0.12">-25</text>
<text x="653.60" y="296.41" font-size="10.4" text-anchor="start" font-weight="normal" fill="#000" stroke="#000" stroke-width="0.12">-28</text>
<text x="653.60" y="306.30" font-size="10.4" text-anchor="start" font-weight="normal" fill="#000" stroke="#000" stroke-width="0.12">-30</text>
<text x="683.00" y="249.00" font-size="10.4" text-anchor="middle" font-weight="normal" fill="#000" stroke="#000" stroke-width="0.12" transform="rotate(-90 683.0 249.0)">Input power (dBm)</text>
<clipPath id="cg"><rect x="45.35" y="368.90" width="258.15" height="117.35"/></clipPath>
<g clip-path="url(#cg)">
<path d="M45.4,425.4 L56.9,427.7 L66.9,430.3 L71.4,431.7 L75.6,433.2 L79.6,434.7 L83.3,436.4 L86.7,438.1 L89.9,440.0 L92.9,441.9 L95.8,444.1 L100.3,447.9 L107.6,455.2 L110.0,457.3 L111.1,458.0 L112.1,458.4 L113.2,458.5 L114.1,458.4 L115.0,458.0 L115.8,457.5 L117.7,455.6 L119.6,452.7 L122.0,448.4 L125.5,441.4 L129.4,432.9 L138.9,410.8 L141.0,406.6 L143.0,403.2 L146.1,398.6 L150.4,393.6 L155.7,388.0 L160.3,383.9 L163.7,381.5 L167.1,379.8 L168.7,379.2 L170.4,378.8 L174.0,378.4 L176.6,378.4 L179.5,378.7 L192.2,380.5 L204.9,381.7 L207.2,382.1 L209.2,382.6 L211.6,383.4 L213.6,384.6 L215.5,386.2 L217.2,388.1 L218.9,390.7 L220.3,393.5 L221.7,396.9 L223.1,401.0 L225.4,409.7 L227.9,421.0 L233.9,452.2 L238.2,476.8 L238.9,480.1 L239.3,480.9 L239.6,481.2 L239.9,481.0 L240.1,480.7 L240.7,478.9 L243.4,466.8 L245.0,460.8 L246.3,456.5 L247.9,452.5 L250.0,448.2 L252.4,444.2 L255.0,440.8 L258.1,437.8 L261.6,435.1 L265.5,432.8 L270.1,430.8 L275.2,429.1 L280.9,427.8 L287.5,426.6 L295.0,425.8 L303.5,425.1" fill="none" stroke="#ff3030" stroke-width="1.4" stroke-linejoin="round"/>
<path d="M45.4,425.7 L57.4,428.2 L62.8,429.5 L67.8,430.8 L72.5,432.3 L76.9,433.9 L81.0,435.5 L84.8,437.3 L90.5,440.5 L95.7,444.1 L98.8,446.6 L101.8,449.3 L104.6,452.1 L109.2,457.2 L110.9,458.8 L112.1,459.6 L113.0,460.1 L114.0,460.3 L114.8,460.2 L115.5,459.9 L116.3,459.4 L117.7,457.9 L119.4,455.4 L121.3,451.8 L125.4,443.2 L130.1,433.2 L139.3,411.6 L141.2,407.6 L143.1,404.2 L146.2,399.6 L150.3,394.7 L155.7,388.9 L160.4,384.6 L164.0,382.1 L167.3,380.3 L169.0,379.7 L170.7,379.3 L172.5,379.0 L174.4,378.8 L177.0,378.9 L180.1,379.1 L192.7,380.9 L205.5,382.2 L207.7,382.5 L209.7,383.0 L212.1,383.9 L214.2,385.1 L216.0,386.6 L217.8,388.6 L219.4,391.1 L220.9,394.0 L222.2,397.4 L223.6,401.5 L225.9,410.1 L228.4,421.4 L234.5,452.6 L238.7,477.2 L239.5,480.5 L239.8,481.3 L240.1,481.6 L240.4,481.5 L240.7,481.1 L241.3,479.3 L243.9,467.2 L245.5,461.3 L246.9,456.9 L248.4,452.9 L250.5,448.6 L252.9,444.6 L255.6,441.2 L258.5,438.3 L262.0,435.6 L266.0,433.3 L270.4,431.3 L275.5,429.6 L281.3,428.2 L287.7,427.1 L295.1,426.3 L303.5,425.6" fill="none" stroke="#f0b030" stroke-width="1.0" stroke-linejoin="round"/>
<path d="M45.4,425.7 L57.4,428.2 L62.8,429.5 L67.9,430.9 L72.6,432.3 L76.9,433.9 L81.1,435.6 L84.9,437.4 L90.6,440.6 L95.9,444.2 L99.0,446.7 L102.0,449.5 L104.7,452.3 L109.3,457.3 L111.0,459.0 L112.1,459.7 L113.0,460.2 L114.0,460.4 L114.8,460.4 L115.5,460.1 L116.2,459.6 L117.7,458.1 L119.2,455.8 L121.1,452.2 L125.4,443.3 L130.1,433.0 L139.3,411.6 L141.2,407.7 L143.0,404.3 L146.1,399.7 L150.2,394.8 L155.7,388.9 L160.4,384.6 L164.0,382.1 L167.3,380.3 L169.0,379.7 L170.7,379.3 L172.5,379.0 L174.4,378.8 L177.0,378.9 L180.1,379.1 L192.7,380.9 L205.5,382.2 L207.7,382.5 L209.7,383.0 L212.1,383.9 L214.2,385.1 L216.0,386.6 L217.8,388.6 L219.4,391.1 L220.9,394.0 L222.2,397.4 L223.6,401.5 L225.9,410.1 L228.4,421.4 L234.5,452.6 L238.7,477.2 L239.5,480.5 L239.8,481.3 L240.1,481.6 L240.4,481.5 L240.7,481.1 L241.3,479.3 L243.9,467.2 L245.5,461.3 L246.9,456.9 L248.4,452.9 L250.5,448.6 L252.9,444.6 L255.6,441.2 L258.5,438.3 L262.0,435.6 L266.0,433.3 L270.4,431.3 L275.5,429.6 L281.3,428.2 L287.7,427.1 L295.1,426.3 L303.5,425.6" fill="none" stroke="#0000ff" stroke-width="1.2" stroke-linejoin="round"/>
<path d="M45.4,425.9 L57.4,428.3 L62.8,429.6 L67.9,431.0 L72.6,432.5 L76.9,434.0 L81.1,435.7 L84.9,437.5 L90.6,440.7 L95.9,444.3 L99.0,446.9 L102.0,449.6 L104.7,452.5 L109.3,457.5 L111.0,459.1 L112.1,459.9 L113.0,460.4 L114.0,460.6 L114.8,460.5 L115.5,460.2 L116.2,459.8 L117.7,458.3 L119.2,455.9 L121.1,452.4 L125.4,443.4 L130.1,433.1 L139.3,411.8 L141.2,407.9 L143.0,404.5 L146.1,399.9 L150.2,394.9 L155.7,389.1 L160.4,384.8 L164.0,382.2 L167.3,380.5 L169.0,379.9 L170.7,379.4 L172.5,379.1 L174.4,379.0 L177.0,379.0 L180.1,379.3 L192.7,381.1 L205.5,382.3 L207.7,382.7 L209.7,383.1 L212.1,384.0 L214.2,385.2 L216.0,386.8 L217.8,388.7 L219.4,391.2 L220.9,394.1 L222.2,397.5 L223.6,401.6 L225.9,410.2 L228.4,421.5 L234.5,452.7 L238.7,477.4 L239.5,480.6 L239.8,481.5 L240.1,481.8 L240.4,481.6 L240.7,481.2 L241.3,479.5 L243.9,467.4 L245.5,461.4 L246.9,457.1 L248.4,453.1 L250.5,448.7 L252.9,444.8 L255.6,441.4 L258.5,438.5 L262.0,435.7 L266.0,433.4 L270.4,431.4 L275.5,429.8 L281.3,428.4 L287.7,427.3 L295.1,426.4 L303.5,425.8" fill="none" stroke="#9a50c8" stroke-width="1.0" stroke-linejoin="round" opacity="0.85"/>
</g>
<rect x="45.35" y="368.90" width="258.15" height="117.35" fill="none" stroke="#363636" stroke-width="1.25"/>
<line x1="45.35" y1="486.25" x2="45.35" y2="483.67" stroke="#363636" stroke-width="0.9"/>
<line x1="45.35" y1="368.90" x2="45.35" y2="371.48" stroke="#363636" stroke-width="0.9"/>
<text x="45.35" y="500.25" font-size="10.4" text-anchor="middle" font-weight="normal" fill="#000" stroke="#000" stroke-width="0.12">16</text>
<line x1="96.98" y1="486.25" x2="96.98" y2="483.67" stroke="#363636" stroke-width="0.9"/>
<line x1="96.98" y1="368.90" x2="96.98" y2="371.48" stroke="#363636" stroke-width="0.9"/>
<text x="96.98" y="500.25" font-size="10.4" text-anchor="middle" font-weight="normal" fill="#000" stroke="#000" stroke-width="0.12">16.5</text>
<line x1="148.61" y1="486.25" x2="148.61" y2="483.67" stroke="#363636" stroke-width="0.9"/>
<line x1="148.61" y1="368.90" x2="148.61" y2="371.48" stroke="#363636" stroke-width="0.9"/>
<text x="148.61" y="500.25" font-size="10.4" text-anchor="middle" font-weight="normal" fill="#000" stroke="#000" stroke-width="0.12">17</text>
<line x1="200.24" y1="486.25" x2="200.24" y2="483.67" stroke="#363636" stroke-width="0.9"/>
<line x1="200.24" y1="368.90" x2="200.24" y2="371.48" stroke="#363636" stroke-width="0.9"/>
<text x="200.24" y="500.25" font-size="10.4" text-anchor="middle" font-weight="normal" fill="#000" stroke="#000" stroke-width="0.12">17.5</text>
<line x1="251.87" y1="486.25" x2="251.87" y2="483.67" stroke="#363636" stroke-width="0.9"/>
<line x1="251.87" y1="368.90" x2="251.87" y2="371.48" stroke="#363636" stroke-width="0.9"/>
<text x="251.87" y="500.25" font-size="10.4" text-anchor="middle" font-weight="normal" fill="#000" stroke="#000" stroke-width="0.12">18</text>
<line x1="303.50" y1="486.25" x2="303.50" y2="483.67" stroke="#363636" stroke-width="0.9"/>
<line x1="303.50" y1="368.90" x2="303.50" y2="371.48" stroke="#363636" stroke-width="0.9"/>
<text x="303.50" y="500.25" font-size="10.4" text-anchor="middle" font-weight="normal" fill="#000" stroke="#000" stroke-width="0.12">18.5</text>
<line x1="45.35" y1="368.90" x2="47.93" y2="368.90" stroke="#363636" stroke-width="0.9"/>
<line x1="303.50" y1="368.90" x2="300.92" y2="368.90" stroke="#363636" stroke-width="0.9"/>
<text x="40.15" y="373.20" font-size="10.4" text-anchor="end" font-weight="normal" fill="#000" stroke="#000" stroke-width="0.12">0</text>
<line x1="45.35" y1="398.24" x2="47.93" y2="398.24" stroke="#363636" stroke-width="0.9"/>
<line x1="303.50" y1="398.24" x2="300.92" y2="398.24" stroke="#363636" stroke-width="0.9"/>
<text x="40.15" y="402.54" font-size="10.4" text-anchor="end" font-weight="normal" fill="#000" stroke="#000" stroke-width="0.12">-10</text>
<line x1="45.35" y1="427.57" x2="47.93" y2="427.57" stroke="#363636" stroke-width="0.9"/>
<line x1="303.50" y1="427.57" x2="300.92" y2="427.57" stroke="#363636" stroke-width="0.9"/>
<text x="40.15" y="431.88" font-size="10.4" text-anchor="end" font-weight="normal" fill="#000" stroke="#000" stroke-width="0.12">-20</text>
<line x1="45.35" y1="456.91" x2="47.93" y2="456.91" stroke="#363636" stroke-width="0.9"/>
<line x1="303.50" y1="456.91" x2="300.92" y2="456.91" stroke="#363636" stroke-width="0.9"/>
<text x="40.15" y="461.21" font-size="10.4" text-anchor="end" font-weight="normal" fill="#000" stroke="#000" stroke-width="0.12">-30</text>
<line x1="45.35" y1="486.25" x2="47.93" y2="486.25" stroke="#363636" stroke-width="0.9"/>
<line x1="303.50" y1="486.25" x2="300.92" y2="486.25" stroke="#363636" stroke-width="0.9"/>
<text x="40.15" y="490.55" font-size="10.4" text-anchor="end" font-weight="normal" fill="#000" stroke="#000" stroke-width="0.12">-40</text>
<text x="174.42" y="515.60" font-size="10.4" text-anchor="middle" font-weight="normal" fill="#000" stroke="#000" stroke-width="0.12">Frequency (GHz)</text>
<text x="14.90" y="429.77" font-size="10.4" text-anchor="middle" font-weight="normal" fill="#000" stroke="#000" stroke-width="0.12" transform="rotate(-90 14.9 429.775)">S21 (dB)</text>
<line x1="235.00" y1="382.60" x2="258.50" y2="382.60" stroke="#0000ff" stroke-width="1.2"/>
<text x="263.60" y="385.90" font-size="8.9" text-anchor="start" font-weight="normal" fill="#000">0 h</text>
<line x1="235.00" y1="395.00" x2="258.50" y2="395.00" stroke="#ff5858" stroke-width="1.2"/>
<text x="263.60" y="398.30" font-size="8.9" text-anchor="start" font-weight="normal" fill="#000">2 h</text>
<line x1="235.00" y1="407.40" x2="258.50" y2="407.40" stroke="#f0b030" stroke-width="1.2"/>
<text x="263.60" y="410.70" font-size="8.9" text-anchor="start" font-weight="normal" fill="#000">15 h</text>
<line x1="235.00" y1="420.20" x2="258.50" y2="420.20" stroke="#a060c0" stroke-width="1.2"/>
<text x="263.60" y="423.50" font-size="8.9" text-anchor="start" font-weight="normal" fill="#000">24 h</text>
<clipPath id="ch"><rect x="374.20" y="371.20" width="253.30" height="115.00"/></clipPath>
<g clip-path="url(#ch)">
<path d="M374.2,431.1 L381.0,432.2 L387.4,433.4 L393.2,434.7 L398.5,436.1 L403.4,437.7 L408.0,439.3 L412.1,441.1 L416.0,443.1 L419.3,445.0 L422.4,447.2 L425.4,449.5 L428.2,452.1 L431.3,455.4 L434.0,458.7 L435.6,461.0 L438.3,465.5 L439.3,467.0 L440.4,467.9 L440.9,468.0 L441.5,468.0 L442.5,467.4 L443.7,466.1 L445.2,463.9 L446.8,461.2 L450.5,454.0 L456.3,441.5 L458.6,436.0 L460.5,430.7 L466.9,410.6 L468.4,406.9 L469.9,403.6 L472.1,399.8 L474.7,396.1 L478.3,392.0 L481.8,388.4 L485.0,385.8 L488.1,384.0 L491.1,382.9 L494.4,382.4 L496.6,382.3 L499.1,382.5 L508.7,383.7 L513.1,384.1 L518.0,384.3 L527.8,384.3 L530.5,384.5 L532.7,384.9 L535.3,385.8 L537.6,387.1 L539.8,388.8 L541.9,391.1 L544.0,393.8 L545.7,396.8 L547.3,400.2 L548.8,403.9 L551.0,411.4 L553.3,421.6 L555.3,432.2 L561.0,464.1 L562.9,473.6 L563.6,476.7 L564.2,478.6 L564.8,479.7 L565.3,480.0 L565.7,479.8 L566.0,479.4 L566.7,478.1 L571.2,464.1 L573.0,459.8 L575.0,455.8 L577.2,452.2 L579.5,449.0 L582.1,446.1 L585.1,443.5 L588.6,441.1 L592.4,438.9 L596.8,437.0 L601.7,435.4 L607.1,434.0 L613.1,432.8 L619.9,431.7 L627.5,430.9" fill="none" stroke="#0000ff" stroke-width="1.1" stroke-linejoin="round"/>
<path d="M374.2,432.9 L381.8,434.3 L388.7,435.9 L394.9,437.5 L400.6,439.3 L405.6,441.3 L410.3,443.5 L414.4,445.9 L418.2,448.5 L421.3,451.1 L424.2,454.0 L426.8,457.2 L429.2,460.6 L431.3,464.2 L433.3,468.3 L438.8,481.8 L439.8,483.5 L440.3,483.9 L440.8,484.0 L441.3,483.8 L441.9,483.2 L443.1,480.6 L447.9,466.3 L453.8,450.6 L456.3,442.2 L460.4,425.9 L462.0,419.7 L464.0,413.8 L466.1,408.8 L468.4,404.6 L471.2,400.1 L474.9,395.2 L478.4,391.0 L481.3,388.1 L483.9,386.0 L486.5,384.4 L489.2,383.4 L492.0,382.9 L495.2,382.8 L510.4,384.4 L515.2,384.6 L524.7,384.6 L527.2,384.7 L529.3,385.0 L531.1,385.4 L532.8,386.0 L534.5,386.7 L536.1,387.6 L537.6,388.7 L539.1,389.9 L540.4,391.2 L541.7,392.7 L543.8,396.0 L545.7,400.0 L547.4,405.1 L549.2,411.6 L551.6,421.9 L554.8,437.6 L557.6,452.2 L561.8,475.4 L562.8,479.3 L563.2,480.2 L563.6,480.7 L564.0,480.7 L564.3,480.3 L565.0,479.0 L568.0,469.6 L569.4,465.7 L571.2,461.5 L573.1,457.8 L575.3,454.3 L577.8,451.2 L580.5,448.4 L583.6,445.9 L587.2,443.5 L591.3,441.4 L595.7,439.6 L600.8,438.0 L606.4,436.6 L612.6,435.5 L619.6,434.5 L627.5,433.7" fill="none" stroke="#ff3a3a" stroke-width="1.4" stroke-linejoin="round"/>
<path d="M374.2,431.8 L380.7,433.0 L386.6,434.2 L392.1,435.6 L397.1,437.1 L401.7,438.7 L406.0,440.4 L409.8,442.3 L413.4,444.3 L416.2,446.2 L418.8,448.2 L421.2,450.3 L423.6,452.7 L426.1,455.7 L428.5,458.9 L430.6,462.2 L434.3,468.3 L435.7,470.3 L436.5,471.2 L437.4,471.8 L438.1,472.0 L438.8,471.9 L439.6,471.4 L440.3,470.5 L442.1,467.4 L452.3,443.9 L453.9,439.8 L455.5,435.3 L460.0,419.9 L462.0,414.0 L464.3,408.2 L467.0,403.2 L470.1,398.5 L473.7,393.8 L477.1,390.0 L480.2,387.1 L483.0,385.2 L485.9,383.8 L488.8,383.1 L492.2,382.8 L495.7,383.0 L507.6,384.2 L512.5,384.4 L522.6,384.4 L525.4,384.6 L527.8,385.0 L529.5,385.5 L531.2,386.2 L532.8,387.0 L534.4,388.0 L535.9,389.2 L537.5,390.6 L538.9,392.2 L540.2,393.8 L542.3,397.3 L544.1,401.5 L545.8,406.4 L547.6,412.9 L549.9,422.9 L552.8,437.5 L555.8,452.9 L559.8,475.1 L560.9,479.1 L561.4,480.2 L561.8,480.6 L562.0,480.6 L562.4,480.3 L563.1,478.9 L566.1,469.1 L567.4,465.2 L569.2,460.8 L571.2,456.9 L573.4,453.2 L576.0,450.0 L578.8,447.1 L581.9,444.5 L585.6,442.1 L589.7,439.9 L594.4,438.1 L599.6,436.4 L605.5,435.1 L612.0,433.9 L619.3,432.9 L627.5,432.1" fill="none" stroke="#1a1a1a" stroke-width="1.0" stroke-linejoin="round"/>
<path d="M374.2,432.7 L381.8,433.8 L388.6,435.1 L394.8,436.6 L400.3,438.3 L405.3,440.1 L409.8,442.3 L413.9,444.6 L417.5,447.2 L420.6,449.9 L423.4,452.9 L425.8,456.1 L428.1,459.7 L430.1,463.5 L432.0,467.8 L437.0,481.8 L437.8,483.4 L438.2,483.8 L438.6,483.9 L439.0,483.8 L439.4,483.3 L440.4,481.2 L444.1,468.7 L445.7,463.7 L447.5,458.9 L451.1,449.9 L452.7,445.6 L454.8,438.1 L458.4,422.8 L460.0,416.7 L462.0,410.6 L464.0,405.7 L466.0,401.8 L468.4,398.1 L471.2,394.4 L474.1,391.1 L476.9,388.5 L479.6,386.5 L482.4,385.0 L485.3,384.0 L487.5,383.5 L489.8,383.2 L492.4,383.1 L495.6,383.1 L513.1,384.2 L522.3,385.2 L527.5,386.1 L529.4,386.7 L531.1,387.3 L532.6,388.1 L533.8,389.0 L535.0,390.0 L536.1,391.3 L537.3,393.0 L538.4,395.0 L539.5,397.4 L540.7,400.3 L543.1,407.7 L545.8,417.4 L549.2,431.0 L552.2,444.4 L554.3,455.3 L557.9,475.9 L558.7,478.7 L559.1,479.6 L559.4,479.9 L559.7,479.8 L559.9,479.6 L560.5,478.5 L563.4,469.2 L564.7,465.5 L566.3,461.4 L568.3,457.7 L570.6,454.2 L573.1,451.1 L576.0,448.3 L579.3,445.7 L583.2,443.1 L587.7,440.8 L592.8,438.8 L598.4,436.9 L604.5,435.3 L611.5,433.8 L619.1,432.4 L627.5,431.3" fill="none" stroke="#7a30a8" stroke-width="1.0" stroke-linejoin="round"/>
</g>
<rect x="374.20" y="371.20" width="253.30" height="115.00" fill="none" stroke="#363636" stroke-width="1.25"/>
<line x1="374.20" y1="486.20" x2="374.20" y2="483.67" stroke="#363636" stroke-width="0.9"/>
<line x1="374.20" y1="371.20" x2="374.20" y2="373.73" stroke="#363636" stroke-width="0.9"/>
<text x="374.20" y="500.20" font-size="10.4" text-anchor="middle" font-weight="normal" fill="#000" stroke="#000" stroke-width="0.12">16</text>
<line x1="424.86" y1="486.20" x2="424.86" y2="483.67" stroke="#363636" stroke-width="0.9"/>
<line x1="424.86" y1="371.20" x2="424.86" y2="373.73" stroke="#363636" stroke-width="0.9"/>
<text x="424.86" y="500.20" font-size="10.4" text-anchor="middle" font-weight="normal" fill="#000" stroke="#000" stroke-width="0.12">16.5</text>
<line x1="475.52" y1="486.20" x2="475.52" y2="483.67" stroke="#363636" stroke-width="0.9"/>
<line x1="475.52" y1="371.20" x2="475.52" y2="373.73" stroke="#363636" stroke-width="0.9"/>
<text x="475.52" y="500.20" font-size="10.4" text-anchor="middle" font-weight="normal" fill="#000" stroke="#000" stroke-width="0.12">17</text>
<line x1="526.18" y1="486.20" x2="526.18" y2="483.67" stroke="#363636" stroke-width="0.9"/>
<line x1="526.18" y1="371.20" x2="526.18" y2="373.73" stroke="#363636" stroke-width="0.9"/>
<text x="526.18" y="500.20" font-size="10.4" text-anchor="middle" font-weight="normal" fill="#000" stroke="#000" stroke-width="0.12">17.5</text>
<line x1="576.84" y1="486.20" x2="576.84" y2="483.67" stroke="#363636" stroke-width="0.9"/>
<line x1="576.84" y1="371.20" x2="576.84" y2="373.73" stroke="#363636" stroke-width="0.9"/>
<text x="576.84" y="500.20" font-size="10.4" text-anchor="middle" font-weight="normal" fill="#000" stroke="#000" stroke-width="0.12">18</text>
<line x1="627.50" y1="486.20" x2="627.50" y2="483.67" stroke="#363636" stroke-width="0.9"/>
<line x1="627.50" y1="371.20" x2="627.50" y2="373.73" stroke="#363636" stroke-width="0.9"/>
<text x="627.50" y="500.20" font-size="10.4" text-anchor="middle" font-weight="normal" fill="#000" stroke="#000" stroke-width="0.12">18.5</text>
<line x1="374.20" y1="371.20" x2="376.73" y2="371.20" stroke="#363636" stroke-width="0.9"/>
<line x1="627.50" y1="371.20" x2="624.97" y2="371.20" stroke="#363636" stroke-width="0.9"/>
<text x="369.00" y="375.50" font-size="10.4" text-anchor="end" font-weight="normal" fill="#000" stroke="#000" stroke-width="0.12">0</text>
<line x1="374.20" y1="399.95" x2="376.73" y2="399.95" stroke="#363636" stroke-width="0.9"/>
<line x1="627.50" y1="399.95" x2="624.97" y2="399.95" stroke="#363636" stroke-width="0.9"/>
<text x="369.00" y="404.25" font-size="10.4" text-anchor="end" font-weight="normal" fill="#000" stroke="#000" stroke-width="0.12">-10</text>
<line x1="374.20" y1="428.70" x2="376.73" y2="428.70" stroke="#363636" stroke-width="0.9"/>
<line x1="627.50" y1="428.70" x2="624.97" y2="428.70" stroke="#363636" stroke-width="0.9"/>
<text x="369.00" y="433.00" font-size="10.4" text-anchor="end" font-weight="normal" fill="#000" stroke="#000" stroke-width="0.12">-20</text>
<line x1="374.20" y1="457.45" x2="376.73" y2="457.45" stroke="#363636" stroke-width="0.9"/>
<line x1="627.50" y1="457.45" x2="624.97" y2="457.45" stroke="#363636" stroke-width="0.9"/>
<text x="369.00" y="461.75" font-size="10.4" text-anchor="end" font-weight="normal" fill="#000" stroke="#000" stroke-width="0.12">-30</text>
<line x1="374.20" y1="486.20" x2="376.73" y2="486.20" stroke="#363636" stroke-width="0.9"/>
<line x1="627.50" y1="486.20" x2="624.97" y2="486.20" stroke="#363636" stroke-width="0.9"/>
<text x="369.00" y="490.50" font-size="10.4" text-anchor="end" font-weight="normal" fill="#000" stroke="#000" stroke-width="0.12">-40</text>
<text x="500.85" y="516.90" font-size="10.4" text-anchor="middle" font-weight="normal" fill="#000" stroke="#000" stroke-width="0.12">Frequency (GHz)</text>
<text x="343.00" y="431.00" font-size="10.4" text-anchor="middle" font-weight="normal" fill="#000" stroke="#000" stroke-width="0.12" transform="rotate(-90 343.0 431.0)">S21 (dB)</text>
<line x1="569.40" y1="384.50" x2="591.50" y2="384.50" stroke="#0000ff" stroke-width="1.0"/>
<text x="596.40" y="387.80" font-size="8.9" text-anchor="start" font-weight="normal" fill="#000">25 C</text>
<line x1="569.40" y1="396.80" x2="591.50" y2="396.80" stroke="#ff5050" stroke-width="1.5"/>
<text x="596.40" y="400.10" font-size="8.9" text-anchor="start" font-weight="normal" fill="#000">70 C</text>
<line x1="569.40" y1="409.00" x2="591.50" y2="409.00" stroke="#3a3a3a" stroke-width="1.1"/>
<text x="596.40" y="412.30" font-size="8.9" text-anchor="start" font-weight="normal" fill="#000">100 C</text>
<line x1="569.40" y1="421.60" x2="591.50" y2="421.60" stroke="#7a30a8" stroke-width="1.0"/>
<text x="596.40" y="424.90" font-size="8.9" text-anchor="start" font-weight="normal" fill="#000">140 C</text>
</svg></body></html>
